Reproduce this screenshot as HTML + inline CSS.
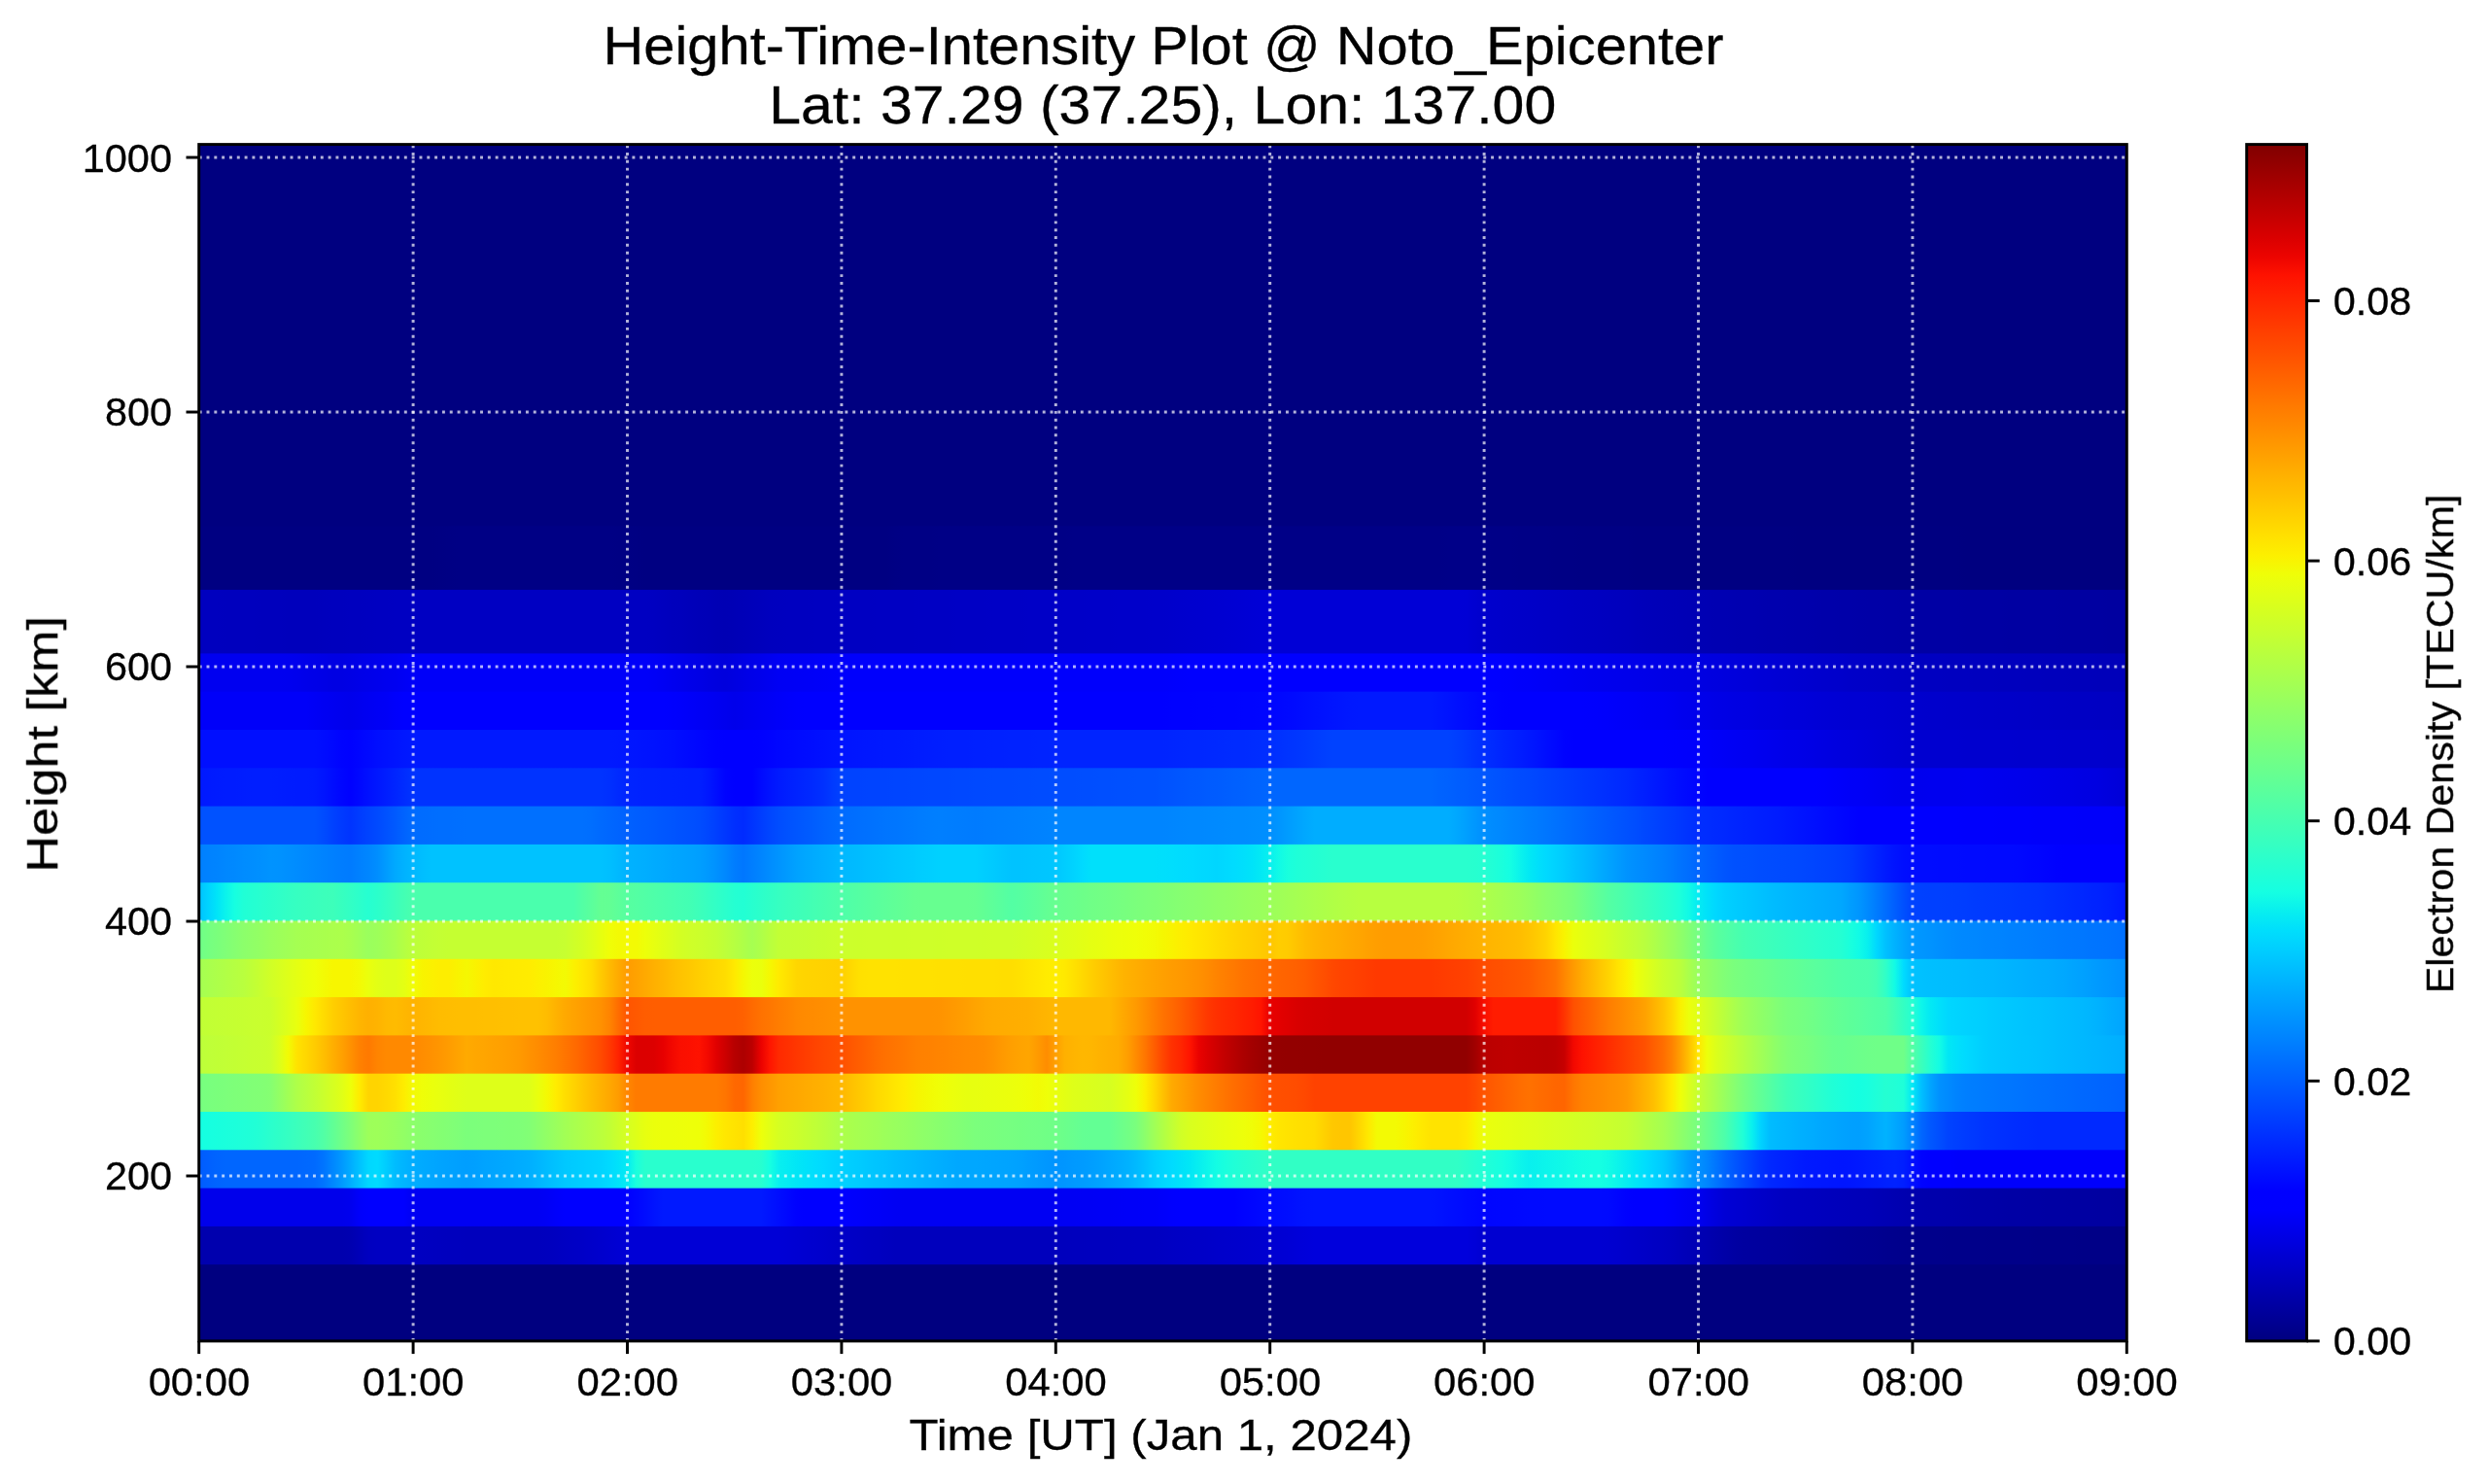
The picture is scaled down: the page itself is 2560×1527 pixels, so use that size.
<!DOCTYPE html><html><head><meta charset="utf-8"><title>HTI</title>
<style>html,body{margin:0;padding:0;background:#fff;overflow:hidden;}svg{display:block;}text{font-family:"Liberation Sans",sans-serif;fill:#000;}</style></head><body>
<svg width="2560" height="1527" viewBox="0 0 2560 1527">
<defs>
<linearGradient id="g130" x1="0" y1="0" x2="1" y2="0"><stop offset="0.00000" stop-color="#0000ae"/><stop offset="0.07407" stop-color="#0000ae"/><stop offset="0.07870" stop-color="#0000b0"/><stop offset="0.08333" stop-color="#0000b8"/><stop offset="0.08796" stop-color="#0000c0"/><stop offset="0.09259" stop-color="#0000c2"/><stop offset="0.11111" stop-color="#0000c2"/><stop offset="0.11574" stop-color="#0000c1"/><stop offset="0.12037" stop-color="#0000c0"/><stop offset="0.12500" stop-color="#0000bf"/><stop offset="0.12963" stop-color="#0000be"/><stop offset="0.13426" stop-color="#0000be"/><stop offset="0.13889" stop-color="#0000bd"/><stop offset="0.17593" stop-color="#0000bd"/><stop offset="0.18056" stop-color="#0000be"/><stop offset="0.18519" stop-color="#0000c0"/><stop offset="0.18981" stop-color="#0000c3"/><stop offset="0.19444" stop-color="#0000c5"/><stop offset="0.19907" stop-color="#0000c7"/><stop offset="0.20370" stop-color="#0000ca"/><stop offset="0.20833" stop-color="#0000cd"/><stop offset="0.21296" stop-color="#0000d0"/><stop offset="0.21759" stop-color="#0000d3"/><stop offset="0.22222" stop-color="#0000d6"/><stop offset="0.30093" stop-color="#0000d6"/><stop offset="0.30556" stop-color="#0000d4"/><stop offset="0.31019" stop-color="#0000d2"/><stop offset="0.31481" stop-color="#0000d0"/><stop offset="0.31944" stop-color="#0000ce"/><stop offset="0.32407" stop-color="#0000cc"/><stop offset="0.32870" stop-color="#0000c9"/><stop offset="0.33333" stop-color="#0000c7"/><stop offset="0.33796" stop-color="#0000c6"/><stop offset="0.34259" stop-color="#0000c4"/><stop offset="0.34722" stop-color="#0000c2"/><stop offset="0.35185" stop-color="#0000c1"/><stop offset="0.35648" stop-color="#0000bf"/><stop offset="0.36111" stop-color="#0000bd"/><stop offset="0.44907" stop-color="#0000bd"/><stop offset="0.45370" stop-color="#0000be"/><stop offset="0.45833" stop-color="#0000be"/><stop offset="0.46296" stop-color="#0000bf"/><stop offset="0.47222" stop-color="#0000bf"/><stop offset="0.47685" stop-color="#0000c0"/><stop offset="0.48148" stop-color="#0000c0"/><stop offset="0.48611" stop-color="#0000c1"/><stop offset="0.49537" stop-color="#0000c1"/><stop offset="0.50000" stop-color="#0000c2"/><stop offset="0.50463" stop-color="#0000c4"/><stop offset="0.50926" stop-color="#0000c5"/><stop offset="0.51389" stop-color="#0000c6"/><stop offset="0.51852" stop-color="#0000c7"/><stop offset="0.52315" stop-color="#0000c8"/><stop offset="0.52778" stop-color="#0000ca"/><stop offset="0.53241" stop-color="#0000cb"/><stop offset="0.53704" stop-color="#0000cc"/><stop offset="0.54167" stop-color="#0000cd"/><stop offset="0.54630" stop-color="#0000ce"/><stop offset="0.55093" stop-color="#0000cf"/><stop offset="0.55556" stop-color="#0000d1"/><stop offset="0.56019" stop-color="#0000d3"/><stop offset="0.56481" stop-color="#0000d5"/><stop offset="0.56944" stop-color="#0000d8"/><stop offset="0.57407" stop-color="#0000da"/><stop offset="0.57870" stop-color="#0000dc"/><stop offset="0.65741" stop-color="#0000dc"/><stop offset="0.66204" stop-color="#0000d8"/><stop offset="0.66667" stop-color="#0000d1"/><stop offset="0.72685" stop-color="#0000d1"/><stop offset="0.73148" stop-color="#0000d0"/><stop offset="0.73611" stop-color="#0000ce"/><stop offset="0.74074" stop-color="#0000cb"/><stop offset="0.74537" stop-color="#0000c9"/><stop offset="0.75000" stop-color="#0000c7"/><stop offset="0.75463" stop-color="#0000c4"/><stop offset="0.75926" stop-color="#0000c2"/><stop offset="0.76389" stop-color="#0000bf"/><stop offset="0.76852" stop-color="#0000bb"/><stop offset="0.77315" stop-color="#0000b7"/><stop offset="0.77778" stop-color="#0000b4"/><stop offset="0.78241" stop-color="#0000b0"/><stop offset="0.78704" stop-color="#0000ab"/><stop offset="0.79167" stop-color="#0000a7"/><stop offset="0.79630" stop-color="#0000a3"/><stop offset="0.80093" stop-color="#0000a0"/><stop offset="0.80556" stop-color="#00009f"/><stop offset="0.81019" stop-color="#00009e"/><stop offset="0.81481" stop-color="#00009d"/><stop offset="0.81944" stop-color="#00009c"/><stop offset="0.82407" stop-color="#00009b"/><stop offset="0.82870" stop-color="#000099"/><stop offset="0.83333" stop-color="#000098"/><stop offset="0.83796" stop-color="#000097"/><stop offset="0.84259" stop-color="#000096"/><stop offset="0.84722" stop-color="#000095"/><stop offset="0.85185" stop-color="#000094"/><stop offset="0.85648" stop-color="#000093"/><stop offset="0.86111" stop-color="#000092"/><stop offset="0.86574" stop-color="#000091"/><stop offset="0.87037" stop-color="#000090"/><stop offset="0.87500" stop-color="#00008e"/><stop offset="0.87963" stop-color="#00008d"/><stop offset="0.88426" stop-color="#00008c"/><stop offset="0.88889" stop-color="#00008b"/><stop offset="0.90278" stop-color="#00008b"/><stop offset="0.90741" stop-color="#00008a"/><stop offset="0.92593" stop-color="#00008a"/><stop offset="0.93056" stop-color="#000089"/><stop offset="0.94907" stop-color="#000089"/><stop offset="0.95370" stop-color="#000088"/><stop offset="0.97222" stop-color="#000088"/><stop offset="0.97685" stop-color="#000087"/><stop offset="0.99537" stop-color="#000087"/><stop offset="1.00000" stop-color="#000086"/></linearGradient>
<linearGradient id="g160" x1="0" y1="0" x2="1" y2="0"><stop offset="0.00000" stop-color="#0000eb"/><stop offset="0.07407" stop-color="#0000eb"/><stop offset="0.07870" stop-color="#0000ee"/><stop offset="0.08333" stop-color="#0000fb"/><stop offset="0.08796" stop-color="#0000ff"/><stop offset="0.10648" stop-color="#0000ff"/><stop offset="0.11111" stop-color="#0000f3"/><stop offset="0.17593" stop-color="#0000f3"/><stop offset="0.18056" stop-color="#0000f6"/><stop offset="0.18519" stop-color="#0000fb"/><stop offset="0.18981" stop-color="#0000ff"/><stop offset="0.22222" stop-color="#0000ff"/><stop offset="0.22685" stop-color="#0006ff"/><stop offset="0.23148" stop-color="#000cff"/><stop offset="0.23611" stop-color="#0013ff"/><stop offset="0.24074" stop-color="#0019ff"/><stop offset="0.29167" stop-color="#0019ff"/><stop offset="0.29630" stop-color="#0013ff"/><stop offset="0.30093" stop-color="#000dff"/><stop offset="0.30556" stop-color="#0007ff"/><stop offset="0.31019" stop-color="#0001ff"/><stop offset="0.31481" stop-color="#0000ff"/><stop offset="0.33333" stop-color="#0000ff"/><stop offset="0.33796" stop-color="#0000fd"/><stop offset="0.34259" stop-color="#0000fb"/><stop offset="0.34722" stop-color="#0000f9"/><stop offset="0.35185" stop-color="#0000f8"/><stop offset="0.35648" stop-color="#0000f6"/><stop offset="0.36111" stop-color="#0000f4"/><stop offset="0.36574" stop-color="#0000f3"/><stop offset="0.44444" stop-color="#0000f3"/><stop offset="0.44907" stop-color="#0000f4"/><stop offset="0.45370" stop-color="#0000f4"/><stop offset="0.45833" stop-color="#0000f5"/><stop offset="0.46296" stop-color="#0000f5"/><stop offset="0.46759" stop-color="#0000f6"/><stop offset="0.47222" stop-color="#0000f6"/><stop offset="0.47685" stop-color="#0000f7"/><stop offset="0.48148" stop-color="#0000f8"/><stop offset="0.48611" stop-color="#0000f8"/><stop offset="0.49074" stop-color="#0000f9"/><stop offset="0.49537" stop-color="#0000f9"/><stop offset="0.50000" stop-color="#0000fb"/><stop offset="0.50463" stop-color="#0000fe"/><stop offset="0.50926" stop-color="#0000ff"/><stop offset="0.53704" stop-color="#0000ff"/><stop offset="0.54167" stop-color="#0003ff"/><stop offset="0.54630" stop-color="#0005ff"/><stop offset="0.55093" stop-color="#0008ff"/><stop offset="0.55556" stop-color="#000aff"/><stop offset="0.56019" stop-color="#000cff"/><stop offset="0.56481" stop-color="#000eff"/><stop offset="0.56944" stop-color="#0011ff"/><stop offset="0.57407" stop-color="#0013ff"/><stop offset="0.57870" stop-color="#0014ff"/><stop offset="0.63889" stop-color="#0014ff"/><stop offset="0.64352" stop-color="#0012ff"/><stop offset="0.64815" stop-color="#000fff"/><stop offset="0.65278" stop-color="#000dff"/><stop offset="0.65741" stop-color="#000aff"/><stop offset="0.66204" stop-color="#0008ff"/><stop offset="0.66667" stop-color="#0005ff"/><stop offset="0.67130" stop-color="#0006ff"/><stop offset="0.67593" stop-color="#0007ff"/><stop offset="0.68056" stop-color="#0007ff"/><stop offset="0.68519" stop-color="#0008ff"/><stop offset="0.68981" stop-color="#0009ff"/><stop offset="0.69444" stop-color="#0009ff"/><stop offset="0.69907" stop-color="#000aff"/><stop offset="0.72685" stop-color="#000aff"/><stop offset="0.73148" stop-color="#0009ff"/><stop offset="0.73611" stop-color="#0005ff"/><stop offset="0.74074" stop-color="#0001ff"/><stop offset="0.74537" stop-color="#0000ff"/><stop offset="0.75926" stop-color="#0000ff"/><stop offset="0.76389" stop-color="#0000fc"/><stop offset="0.76852" stop-color="#0000f8"/><stop offset="0.77315" stop-color="#0000f4"/><stop offset="0.77778" stop-color="#0000f0"/><stop offset="0.78241" stop-color="#0000e6"/><stop offset="0.78704" stop-color="#0000dd"/><stop offset="0.79167" stop-color="#0000d5"/><stop offset="0.79630" stop-color="#0000d2"/><stop offset="0.80093" stop-color="#0000cf"/><stop offset="0.80556" stop-color="#0000cc"/><stop offset="0.81019" stop-color="#0000c9"/><stop offset="0.81481" stop-color="#0000c6"/><stop offset="0.81944" stop-color="#0000c3"/><stop offset="0.82407" stop-color="#0000c1"/><stop offset="0.82870" stop-color="#0000c0"/><stop offset="0.83333" stop-color="#0000bf"/><stop offset="0.83796" stop-color="#0000be"/><stop offset="0.84259" stop-color="#0000bd"/><stop offset="0.84722" stop-color="#0000bc"/><stop offset="0.85185" stop-color="#0000bb"/><stop offset="0.85648" stop-color="#0000ba"/><stop offset="0.86111" stop-color="#0000b9"/><stop offset="0.86574" stop-color="#0000b8"/><stop offset="0.87037" stop-color="#0000b6"/><stop offset="0.87500" stop-color="#0000b4"/><stop offset="0.87963" stop-color="#0000b2"/><stop offset="0.88426" stop-color="#0000b0"/><stop offset="0.88889" stop-color="#0000ae"/><stop offset="0.89352" stop-color="#0000ad"/><stop offset="0.89815" stop-color="#0000ac"/><stop offset="0.90278" stop-color="#0000ac"/><stop offset="0.90741" stop-color="#0000ab"/><stop offset="0.91204" stop-color="#0000aa"/><stop offset="0.91667" stop-color="#0000a9"/><stop offset="0.92130" stop-color="#0000a8"/><stop offset="0.92593" stop-color="#0000a8"/><stop offset="0.93056" stop-color="#0000a7"/><stop offset="0.93519" stop-color="#0000a6"/><stop offset="0.93981" stop-color="#0000a5"/><stop offset="0.94444" stop-color="#0000a5"/><stop offset="0.94907" stop-color="#0000a4"/><stop offset="0.95370" stop-color="#0000a4"/><stop offset="0.95833" stop-color="#0000a3"/><stop offset="0.96759" stop-color="#0000a3"/><stop offset="0.97222" stop-color="#0000a2"/><stop offset="0.98148" stop-color="#0000a2"/><stop offset="0.98611" stop-color="#0000a1"/><stop offset="0.99074" stop-color="#0000a1"/><stop offset="0.99537" stop-color="#0000a0"/><stop offset="1.00000" stop-color="#0000a0"/></linearGradient>
<linearGradient id="g190" x1="0" y1="0" x2="1" y2="0"><stop offset="0.00000" stop-color="#005cff"/><stop offset="0.00463" stop-color="#0060ff"/><stop offset="0.00926" stop-color="#0064ff"/><stop offset="0.01389" stop-color="#0066ff"/><stop offset="0.05093" stop-color="#0066ff"/><stop offset="0.05556" stop-color="#0068ff"/><stop offset="0.06019" stop-color="#006aff"/><stop offset="0.06481" stop-color="#0075ff"/><stop offset="0.06944" stop-color="#0087ff"/><stop offset="0.07407" stop-color="#0098ff"/><stop offset="0.07870" stop-color="#00adff"/><stop offset="0.08333" stop-color="#00c2ff"/><stop offset="0.08796" stop-color="#00d7ff"/><stop offset="0.09259" stop-color="#00dbff"/><stop offset="0.09722" stop-color="#00ccff"/><stop offset="0.10185" stop-color="#00bcff"/><stop offset="0.10648" stop-color="#00b4ff"/><stop offset="0.11111" stop-color="#00adff"/><stop offset="0.11574" stop-color="#00aaff"/><stop offset="0.12037" stop-color="#00a7ff"/><stop offset="0.12500" stop-color="#00a4ff"/><stop offset="0.12963" stop-color="#00a2ff"/><stop offset="0.13426" stop-color="#00a0ff"/><stop offset="0.13889" stop-color="#009eff"/><stop offset="0.14352" stop-color="#00a0ff"/><stop offset="0.14815" stop-color="#00a3ff"/><stop offset="0.15278" stop-color="#00a5ff"/><stop offset="0.15741" stop-color="#00a7ff"/><stop offset="0.16204" stop-color="#00a9ff"/><stop offset="0.16667" stop-color="#00acff"/><stop offset="0.17130" stop-color="#00afff"/><stop offset="0.17593" stop-color="#00b5ff"/><stop offset="0.18056" stop-color="#00bcff"/><stop offset="0.18519" stop-color="#00c2ff"/><stop offset="0.18981" stop-color="#00c8ff"/><stop offset="0.19444" stop-color="#00cbff"/><stop offset="0.19907" stop-color="#00ceff"/><stop offset="0.20370" stop-color="#00d1ff"/><stop offset="0.20833" stop-color="#00d4ff"/><stop offset="0.21296" stop-color="#00daff"/><stop offset="0.21759" stop-color="#00e2fa"/><stop offset="0.22222" stop-color="#04ebf3"/><stop offset="0.22685" stop-color="#1affdd"/><stop offset="0.23148" stop-color="#29ffce"/><stop offset="0.28704" stop-color="#29ffce"/><stop offset="0.29167" stop-color="#27ffd0"/><stop offset="0.29630" stop-color="#16ffe1"/><stop offset="0.30093" stop-color="#08efef"/><stop offset="0.30556" stop-color="#04ebf3"/><stop offset="0.31019" stop-color="#01e6f6"/><stop offset="0.31481" stop-color="#00e2fa"/><stop offset="0.31944" stop-color="#00defd"/><stop offset="0.32407" stop-color="#00daff"/><stop offset="0.32870" stop-color="#00d5ff"/><stop offset="0.33333" stop-color="#00d1ff"/><stop offset="0.33796" stop-color="#00ceff"/><stop offset="0.34259" stop-color="#00cbff"/><stop offset="0.34722" stop-color="#00c7ff"/><stop offset="0.35185" stop-color="#00c4ff"/><stop offset="0.35648" stop-color="#00c1ff"/><stop offset="0.36111" stop-color="#00bdff"/><stop offset="0.36574" stop-color="#00baff"/><stop offset="0.37037" stop-color="#00b7ff"/><stop offset="0.37500" stop-color="#00b4ff"/><stop offset="0.37963" stop-color="#00b1ff"/><stop offset="0.38426" stop-color="#00aeff"/><stop offset="0.38889" stop-color="#00abff"/><stop offset="0.39352" stop-color="#00a8ff"/><stop offset="0.39815" stop-color="#00a7ff"/><stop offset="0.40278" stop-color="#00a7ff"/><stop offset="0.40741" stop-color="#00a6ff"/><stop offset="0.41204" stop-color="#00a5ff"/><stop offset="0.41667" stop-color="#00a4ff"/><stop offset="0.42130" stop-color="#00a3ff"/><stop offset="0.42593" stop-color="#00a1ff"/><stop offset="0.43056" stop-color="#009dff"/><stop offset="0.43519" stop-color="#009aff"/><stop offset="0.43981" stop-color="#0097ff"/><stop offset="0.44444" stop-color="#0094ff"/><stop offset="0.44907" stop-color="#0096ff"/><stop offset="0.45370" stop-color="#0099ff"/><stop offset="0.45833" stop-color="#009bff"/><stop offset="0.46296" stop-color="#009eff"/><stop offset="0.46759" stop-color="#00a2ff"/><stop offset="0.47222" stop-color="#00a7ff"/><stop offset="0.47685" stop-color="#00acff"/><stop offset="0.48148" stop-color="#00b1ff"/><stop offset="0.48611" stop-color="#00b9ff"/><stop offset="0.49074" stop-color="#00c3ff"/><stop offset="0.49537" stop-color="#00ceff"/><stop offset="0.50000" stop-color="#00d5ff"/><stop offset="0.50463" stop-color="#00dbff"/><stop offset="0.50926" stop-color="#00e1fa"/><stop offset="0.51389" stop-color="#01e7f6"/><stop offset="0.51852" stop-color="#07eef0"/><stop offset="0.52315" stop-color="#0df6ea"/><stop offset="0.52778" stop-color="#13fde4"/><stop offset="0.53241" stop-color="#1affdd"/><stop offset="0.53704" stop-color="#20ffd7"/><stop offset="0.54167" stop-color="#25ffd2"/><stop offset="0.54630" stop-color="#29ffce"/><stop offset="0.55093" stop-color="#2dffca"/><stop offset="0.55556" stop-color="#31ffc5"/><stop offset="0.64815" stop-color="#31ffc5"/><stop offset="0.65278" stop-color="#31ffc6"/><stop offset="0.65741" stop-color="#2bffcb"/><stop offset="0.66204" stop-color="#26ffd1"/><stop offset="0.66667" stop-color="#21ffd6"/><stop offset="0.67130" stop-color="#1cffdb"/><stop offset="0.67593" stop-color="#17ffe0"/><stop offset="0.68056" stop-color="#12fce5"/><stop offset="0.68519" stop-color="#0df5ea"/><stop offset="0.68981" stop-color="#09f0ee"/><stop offset="0.69444" stop-color="#0af2ec"/><stop offset="0.69907" stop-color="#0cf5eb"/><stop offset="0.70370" stop-color="#0ef7e9"/><stop offset="0.70833" stop-color="#10f9e7"/><stop offset="0.71296" stop-color="#12fce5"/><stop offset="0.71759" stop-color="#14fee3"/><stop offset="0.72222" stop-color="#15ffe2"/><stop offset="0.72685" stop-color="#15ffe2"/><stop offset="0.73148" stop-color="#11fbe5"/><stop offset="0.73611" stop-color="#0cf4eb"/><stop offset="0.74074" stop-color="#06edf1"/><stop offset="0.74537" stop-color="#00e6f7"/><stop offset="0.75000" stop-color="#00defd"/><stop offset="0.75463" stop-color="#00d4ff"/><stop offset="0.75926" stop-color="#00cbff"/><stop offset="0.76389" stop-color="#00bdff"/><stop offset="0.76852" stop-color="#00acff"/><stop offset="0.77315" stop-color="#009cff"/><stop offset="0.77778" stop-color="#0091ff"/><stop offset="0.78241" stop-color="#0085ff"/><stop offset="0.78704" stop-color="#0075ff"/><stop offset="0.79167" stop-color="#0065ff"/><stop offset="0.79630" stop-color="#0057ff"/><stop offset="0.80093" stop-color="#004aff"/><stop offset="0.80556" stop-color="#003eff"/><stop offset="0.81019" stop-color="#0031ff"/><stop offset="0.81481" stop-color="#0028ff"/><stop offset="0.81944" stop-color="#0024ff"/><stop offset="0.82407" stop-color="#0021ff"/><stop offset="0.82870" stop-color="#001dff"/><stop offset="0.83333" stop-color="#0019ff"/><stop offset="0.83796" stop-color="#0018ff"/><stop offset="0.84259" stop-color="#0017ff"/><stop offset="0.84722" stop-color="#0016ff"/><stop offset="0.85185" stop-color="#0015ff"/><stop offset="0.85648" stop-color="#0016ff"/><stop offset="0.86111" stop-color="#0018ff"/><stop offset="0.86574" stop-color="#001bff"/><stop offset="0.87037" stop-color="#001dff"/><stop offset="0.87500" stop-color="#0020ff"/><stop offset="0.87963" stop-color="#0022ff"/><stop offset="0.88426" stop-color="#001eff"/><stop offset="0.88889" stop-color="#0010ff"/><stop offset="0.89352" stop-color="#0003ff"/><stop offset="0.89815" stop-color="#0000ff"/><stop offset="0.90741" stop-color="#0000ff"/><stop offset="0.91204" stop-color="#0000fc"/><stop offset="1.00000" stop-color="#0000fc"/></linearGradient>
<linearGradient id="g220" x1="0" y1="0" x2="1" y2="0"><stop offset="0.00000" stop-color="#15ffe2"/><stop offset="0.00463" stop-color="#16ffe0"/><stop offset="0.00926" stop-color="#18ffde"/><stop offset="0.01389" stop-color="#1affdc"/><stop offset="0.01852" stop-color="#1cffdb"/><stop offset="0.02315" stop-color="#1effd9"/><stop offset="0.02778" stop-color="#20ffd7"/><stop offset="0.03241" stop-color="#24ffd3"/><stop offset="0.03704" stop-color="#2affcd"/><stop offset="0.04167" stop-color="#2fffc7"/><stop offset="0.04630" stop-color="#35ffc2"/><stop offset="0.05093" stop-color="#3bffbc"/><stop offset="0.05556" stop-color="#41ffb6"/><stop offset="0.06019" stop-color="#47ffaf"/><stop offset="0.06481" stop-color="#52ffa5"/><stop offset="0.06944" stop-color="#60ff96"/><stop offset="0.07407" stop-color="#6fff88"/><stop offset="0.07870" stop-color="#7eff79"/><stop offset="0.08333" stop-color="#8eff69"/><stop offset="0.08796" stop-color="#9dff5a"/><stop offset="0.09259" stop-color="#9eff59"/><stop offset="0.09722" stop-color="#9bff5c"/><stop offset="0.10185" stop-color="#97ff60"/><stop offset="0.10648" stop-color="#92ff65"/><stop offset="0.11111" stop-color="#8cff6b"/><stop offset="0.11574" stop-color="#89ff6d"/><stop offset="0.12037" stop-color="#87ff70"/><stop offset="0.12500" stop-color="#84ff72"/><stop offset="0.12963" stop-color="#82ff75"/><stop offset="0.13426" stop-color="#7fff78"/><stop offset="0.13889" stop-color="#7bff7b"/><stop offset="0.14352" stop-color="#7cff7b"/><stop offset="0.14815" stop-color="#7dff7a"/><stop offset="0.15278" stop-color="#7dff7a"/><stop offset="0.15741" stop-color="#7eff79"/><stop offset="0.16204" stop-color="#7eff78"/><stop offset="0.16667" stop-color="#7fff78"/><stop offset="0.17130" stop-color="#82ff75"/><stop offset="0.17593" stop-color="#8aff6d"/><stop offset="0.18056" stop-color="#92ff65"/><stop offset="0.18519" stop-color="#9aff5d"/><stop offset="0.18981" stop-color="#a2ff55"/><stop offset="0.19444" stop-color="#a8ff4f"/><stop offset="0.19907" stop-color="#aeff49"/><stop offset="0.20370" stop-color="#b4ff43"/><stop offset="0.20833" stop-color="#baff3d"/><stop offset="0.21296" stop-color="#c1ff35"/><stop offset="0.21759" stop-color="#ccff2b"/><stop offset="0.22222" stop-color="#d6ff21"/><stop offset="0.22685" stop-color="#deff18"/><stop offset="0.23148" stop-color="#e7ff10"/><stop offset="0.23611" stop-color="#ebff0c"/><stop offset="0.24074" stop-color="#ecff0b"/><stop offset="0.24537" stop-color="#ecff0b"/><stop offset="0.25000" stop-color="#edff0a"/><stop offset="0.25463" stop-color="#eeff09"/><stop offset="0.25926" stop-color="#eeff08"/><stop offset="0.26389" stop-color="#f4f903"/><stop offset="0.26852" stop-color="#fcef00"/><stop offset="0.27315" stop-color="#ffe700"/><stop offset="0.27778" stop-color="#ffe300"/><stop offset="0.28241" stop-color="#ffdf00"/><stop offset="0.28704" stop-color="#feee00"/><stop offset="0.29167" stop-color="#edff0a"/><stop offset="0.29630" stop-color="#e0ff17"/><stop offset="0.30093" stop-color="#d5ff22"/><stop offset="0.30556" stop-color="#d0ff27"/><stop offset="0.31019" stop-color="#cbff2c"/><stop offset="0.31481" stop-color="#c5ff31"/><stop offset="0.31944" stop-color="#c0ff36"/><stop offset="0.32407" stop-color="#baff3c"/><stop offset="0.32870" stop-color="#b4ff43"/><stop offset="0.33333" stop-color="#adff4a"/><stop offset="0.33796" stop-color="#a9ff4d"/><stop offset="0.34259" stop-color="#a6ff51"/><stop offset="0.34722" stop-color="#a3ff54"/><stop offset="0.35185" stop-color="#a0ff57"/><stop offset="0.35648" stop-color="#9cff5b"/><stop offset="0.36111" stop-color="#99ff5e"/><stop offset="0.36574" stop-color="#96ff61"/><stop offset="0.37037" stop-color="#92ff64"/><stop offset="0.37500" stop-color="#8fff68"/><stop offset="0.37963" stop-color="#8cff6b"/><stop offset="0.38426" stop-color="#88ff6e"/><stop offset="0.38889" stop-color="#85ff72"/><stop offset="0.39352" stop-color="#82ff75"/><stop offset="0.39815" stop-color="#7eff78"/><stop offset="0.40278" stop-color="#7bff7c"/><stop offset="0.40741" stop-color="#7aff7d"/><stop offset="0.41204" stop-color="#79ff7e"/><stop offset="0.41667" stop-color="#77ff80"/><stop offset="0.42130" stop-color="#76ff81"/><stop offset="0.42593" stop-color="#74ff82"/><stop offset="0.43056" stop-color="#73ff84"/><stop offset="0.43519" stop-color="#72ff85"/><stop offset="0.43981" stop-color="#70ff86"/><stop offset="0.44444" stop-color="#6fff88"/><stop offset="0.44907" stop-color="#6bff8b"/><stop offset="0.45370" stop-color="#68ff8f"/><stop offset="0.45833" stop-color="#64ff93"/><stop offset="0.46296" stop-color="#63ff94"/><stop offset="0.47222" stop-color="#63ff94"/><stop offset="0.47685" stop-color="#6aff8d"/><stop offset="0.48148" stop-color="#71ff86"/><stop offset="0.48611" stop-color="#7aff7d"/><stop offset="0.49074" stop-color="#8cff6b"/><stop offset="0.49537" stop-color="#9fff58"/><stop offset="0.50000" stop-color="#b0ff46"/><stop offset="0.50463" stop-color="#c0ff37"/><stop offset="0.50926" stop-color="#d0ff27"/><stop offset="0.51389" stop-color="#d8ff1f"/><stop offset="0.51852" stop-color="#dcff1b"/><stop offset="0.52315" stop-color="#e0ff17"/><stop offset="0.52778" stop-color="#e4ff13"/><stop offset="0.53241" stop-color="#e7ff10"/><stop offset="0.53704" stop-color="#eaff0d"/><stop offset="0.54167" stop-color="#edff0a"/><stop offset="0.54630" stop-color="#f0fd07"/><stop offset="0.55093" stop-color="#f5f802"/><stop offset="0.55556" stop-color="#feed00"/><stop offset="0.56019" stop-color="#ffe600"/><stop offset="0.56481" stop-color="#ffe300"/><stop offset="0.56944" stop-color="#ffe000"/><stop offset="0.57407" stop-color="#ffde00"/><stop offset="0.57870" stop-color="#ffdc00"/><stop offset="0.58333" stop-color="#ffd200"/><stop offset="0.58796" stop-color="#ffc800"/><stop offset="0.59259" stop-color="#ffc600"/><stop offset="0.59722" stop-color="#ffc600"/><stop offset="0.60185" stop-color="#ffd600"/><stop offset="0.60648" stop-color="#ffe800"/><stop offset="0.61111" stop-color="#f3fa04"/><stop offset="0.62037" stop-color="#f3fa04"/><stop offset="0.62500" stop-color="#f6f601"/><stop offset="0.62963" stop-color="#fcf000"/><stop offset="0.63426" stop-color="#ffe900"/><stop offset="0.63889" stop-color="#ffe300"/><stop offset="0.65278" stop-color="#ffe300"/><stop offset="0.65741" stop-color="#ffe800"/><stop offset="0.66204" stop-color="#f6f600"/><stop offset="0.66667" stop-color="#eaff0c"/><stop offset="0.67130" stop-color="#e8ff0f"/><stop offset="0.67593" stop-color="#e6ff11"/><stop offset="0.68056" stop-color="#e4ff13"/><stop offset="0.68519" stop-color="#e1ff15"/><stop offset="0.68981" stop-color="#dfff18"/><stop offset="0.69444" stop-color="#ddff1a"/><stop offset="0.69907" stop-color="#daff1c"/><stop offset="0.70370" stop-color="#d8ff1f"/><stop offset="0.70833" stop-color="#d6ff21"/><stop offset="0.71296" stop-color="#d3ff23"/><stop offset="0.71759" stop-color="#d1ff26"/><stop offset="0.72222" stop-color="#cfff28"/><stop offset="0.72685" stop-color="#ccff2b"/><stop offset="0.73148" stop-color="#caff2d"/><stop offset="0.73611" stop-color="#c7ff2f"/><stop offset="0.74074" stop-color="#c4ff33"/><stop offset="0.74537" stop-color="#bdff3a"/><stop offset="0.75000" stop-color="#b5ff42"/><stop offset="0.75463" stop-color="#adff49"/><stop offset="0.75926" stop-color="#a6ff51"/><stop offset="0.76389" stop-color="#9bff5c"/><stop offset="0.76852" stop-color="#8fff68"/><stop offset="0.77315" stop-color="#83ff74"/><stop offset="0.77778" stop-color="#77ff80"/><stop offset="0.78241" stop-color="#69ff8e"/><stop offset="0.78704" stop-color="#5bff9c"/><stop offset="0.79167" stop-color="#4cffab"/><stop offset="0.79630" stop-color="#36ffc1"/><stop offset="0.80093" stop-color="#20ffd7"/><stop offset="0.80556" stop-color="#09f0ee"/><stop offset="0.81019" stop-color="#00d2ff"/><stop offset="0.81481" stop-color="#00bcff"/><stop offset="0.81944" stop-color="#00b8ff"/><stop offset="0.82407" stop-color="#00b5ff"/><stop offset="0.82870" stop-color="#00b1ff"/><stop offset="0.83333" stop-color="#00aeff"/><stop offset="0.83796" stop-color="#00abff"/><stop offset="0.84259" stop-color="#00a7ff"/><stop offset="0.84722" stop-color="#00a5ff"/><stop offset="0.85185" stop-color="#00a2ff"/><stop offset="0.85648" stop-color="#00a0ff"/><stop offset="0.86111" stop-color="#009fff"/><stop offset="0.86574" stop-color="#00a3ff"/><stop offset="0.87037" stop-color="#00abff"/><stop offset="0.87500" stop-color="#00b2ff"/><stop offset="0.87963" stop-color="#00a8ff"/><stop offset="0.88426" stop-color="#009cff"/><stop offset="0.88889" stop-color="#0084ff"/><stop offset="0.89352" stop-color="#0067ff"/><stop offset="0.89815" stop-color="#0058ff"/><stop offset="0.90278" stop-color="#004eff"/><stop offset="0.90741" stop-color="#0043ff"/><stop offset="0.91204" stop-color="#003fff"/><stop offset="0.91667" stop-color="#003bff"/><stop offset="0.92130" stop-color="#0038ff"/><stop offset="0.92593" stop-color="#0034ff"/><stop offset="0.93056" stop-color="#0032ff"/><stop offset="0.93519" stop-color="#0030ff"/><stop offset="0.93981" stop-color="#002eff"/><stop offset="0.94444" stop-color="#002cff"/><stop offset="0.94907" stop-color="#002bff"/><stop offset="0.95370" stop-color="#0029ff"/><stop offset="1.00000" stop-color="#0029ff"/></linearGradient>
<linearGradient id="g250" x1="0" y1="0" x2="1" y2="0"><stop offset="0.00000" stop-color="#77ff80"/><stop offset="0.00463" stop-color="#79ff7e"/><stop offset="0.00926" stop-color="#7aff7c"/><stop offset="0.01389" stop-color="#7cff7b"/><stop offset="0.01852" stop-color="#7eff79"/><stop offset="0.02315" stop-color="#7fff78"/><stop offset="0.02778" stop-color="#81ff76"/><stop offset="0.03241" stop-color="#82ff75"/><stop offset="0.03704" stop-color="#85ff72"/><stop offset="0.04167" stop-color="#93ff64"/><stop offset="0.04630" stop-color="#a1ff55"/><stop offset="0.05093" stop-color="#afff48"/><stop offset="0.05556" stop-color="#b8ff3f"/><stop offset="0.06019" stop-color="#c1ff35"/><stop offset="0.06481" stop-color="#cbff2c"/><stop offset="0.06944" stop-color="#d5ff22"/><stop offset="0.07407" stop-color="#dfff18"/><stop offset="0.07870" stop-color="#eeff09"/><stop offset="0.08333" stop-color="#ffeb00"/><stop offset="0.08796" stop-color="#ffd400"/><stop offset="0.09259" stop-color="#ffd400"/><stop offset="0.09722" stop-color="#ffd900"/><stop offset="0.10185" stop-color="#ffe000"/><stop offset="0.10648" stop-color="#feed00"/><stop offset="0.11111" stop-color="#f3fa04"/><stop offset="0.11574" stop-color="#effe08"/><stop offset="0.12037" stop-color="#ebff0b"/><stop offset="0.12500" stop-color="#e8ff0f"/><stop offset="0.12963" stop-color="#e4ff12"/><stop offset="0.13426" stop-color="#e1ff16"/><stop offset="0.13889" stop-color="#deff19"/><stop offset="0.16667" stop-color="#deff19"/><stop offset="0.17130" stop-color="#dfff18"/><stop offset="0.17593" stop-color="#e9ff0e"/><stop offset="0.18056" stop-color="#f4f903"/><stop offset="0.18519" stop-color="#ffec00"/><stop offset="0.18981" stop-color="#ffde00"/><stop offset="0.19444" stop-color="#ffd300"/><stop offset="0.19907" stop-color="#ffc700"/><stop offset="0.20370" stop-color="#ffbc00"/><stop offset="0.20833" stop-color="#ffb200"/><stop offset="0.21296" stop-color="#ffa800"/><stop offset="0.21759" stop-color="#ff9c00"/><stop offset="0.22222" stop-color="#ff8600"/><stop offset="0.22685" stop-color="#ff7b00"/><stop offset="0.26852" stop-color="#ff7b00"/><stop offset="0.27315" stop-color="#ff7500"/><stop offset="0.27778" stop-color="#ff6800"/><stop offset="0.28241" stop-color="#ff6600"/><stop offset="0.28704" stop-color="#ff7f00"/><stop offset="0.29167" stop-color="#ff8e00"/><stop offset="0.29630" stop-color="#ff9700"/><stop offset="0.30093" stop-color="#ffa000"/><stop offset="0.30556" stop-color="#ffa400"/><stop offset="0.31019" stop-color="#ffa700"/><stop offset="0.31481" stop-color="#ffab00"/><stop offset="0.31944" stop-color="#ffae00"/><stop offset="0.32407" stop-color="#ffb100"/><stop offset="0.32870" stop-color="#ffb500"/><stop offset="0.33333" stop-color="#ffb800"/><stop offset="0.33796" stop-color="#ffc000"/><stop offset="0.34259" stop-color="#ffc800"/><stop offset="0.34722" stop-color="#ffd000"/><stop offset="0.35185" stop-color="#ffd900"/><stop offset="0.35648" stop-color="#ffdf00"/><stop offset="0.36111" stop-color="#ffe600"/><stop offset="0.36574" stop-color="#ffec00"/><stop offset="0.37037" stop-color="#f9f300"/><stop offset="0.37500" stop-color="#f5f702"/><stop offset="0.37963" stop-color="#f2fb04"/><stop offset="0.38426" stop-color="#f0fe07"/><stop offset="0.38889" stop-color="#edff0a"/><stop offset="0.39352" stop-color="#eaff0d"/><stop offset="0.39815" stop-color="#e7ff0f"/><stop offset="0.40278" stop-color="#e7ff10"/><stop offset="0.40741" stop-color="#e8ff0f"/><stop offset="0.41204" stop-color="#e9ff0e"/><stop offset="0.41667" stop-color="#eaff0d"/><stop offset="0.42130" stop-color="#ebff0c"/><stop offset="0.42593" stop-color="#edff0a"/><stop offset="0.43056" stop-color="#effe07"/><stop offset="0.43519" stop-color="#f2fb05"/><stop offset="0.43981" stop-color="#efff08"/><stop offset="0.44444" stop-color="#e9ff0e"/><stop offset="0.44907" stop-color="#e3ff13"/><stop offset="0.45370" stop-color="#deff19"/><stop offset="0.45833" stop-color="#dcff1b"/><stop offset="0.46296" stop-color="#daff1d"/><stop offset="0.46759" stop-color="#d8ff1f"/><stop offset="0.47222" stop-color="#d6ff21"/><stop offset="0.47685" stop-color="#ddff1a"/><stop offset="0.48148" stop-color="#e4ff13"/><stop offset="0.48611" stop-color="#eeff09"/><stop offset="0.49074" stop-color="#fbf100"/><stop offset="0.49537" stop-color="#ffda00"/><stop offset="0.50000" stop-color="#ffc100"/><stop offset="0.50463" stop-color="#ffaa00"/><stop offset="0.50926" stop-color="#ffa000"/><stop offset="0.51389" stop-color="#ff9600"/><stop offset="0.51852" stop-color="#ff8c00"/><stop offset="0.52315" stop-color="#ff8400"/><stop offset="0.52778" stop-color="#ff7c00"/><stop offset="0.53241" stop-color="#ff7400"/><stop offset="0.53704" stop-color="#ff6d00"/><stop offset="0.54167" stop-color="#ff6600"/><stop offset="0.54630" stop-color="#ff5f00"/><stop offset="0.55093" stop-color="#ff5700"/><stop offset="0.55556" stop-color="#ff5000"/><stop offset="0.56019" stop-color="#ff4f00"/><stop offset="0.56481" stop-color="#ff4e00"/><stop offset="0.56944" stop-color="#ff4c00"/><stop offset="0.57407" stop-color="#ff4800"/><stop offset="0.57870" stop-color="#ff4200"/><stop offset="0.65741" stop-color="#ff4200"/><stop offset="0.66204" stop-color="#ff4a00"/><stop offset="0.66667" stop-color="#ff5500"/><stop offset="0.67130" stop-color="#ff5b00"/><stop offset="0.67593" stop-color="#ff6100"/><stop offset="0.68056" stop-color="#ff6700"/><stop offset="0.68519" stop-color="#ff6d00"/><stop offset="0.68981" stop-color="#ff7100"/><stop offset="0.69444" stop-color="#ff6d00"/><stop offset="0.69907" stop-color="#ff6a00"/><stop offset="0.70370" stop-color="#ff6600"/><stop offset="0.70833" stop-color="#ff6500"/><stop offset="0.71296" stop-color="#ff7600"/><stop offset="0.71759" stop-color="#ff8100"/><stop offset="0.72222" stop-color="#ff8600"/><stop offset="0.72685" stop-color="#ff8a00"/><stop offset="0.73148" stop-color="#ff8f00"/><stop offset="0.73611" stop-color="#ff9300"/><stop offset="0.74074" stop-color="#ff9900"/><stop offset="0.74537" stop-color="#ffa600"/><stop offset="0.75000" stop-color="#ffb200"/><stop offset="0.75463" stop-color="#ffbf00"/><stop offset="0.75926" stop-color="#ffd300"/><stop offset="0.76389" stop-color="#ffe900"/><stop offset="0.76852" stop-color="#efff08"/><stop offset="0.77315" stop-color="#daff1d"/><stop offset="0.77778" stop-color="#c5ff31"/><stop offset="0.78241" stop-color="#b6ff41"/><stop offset="0.78704" stop-color="#a7ff50"/><stop offset="0.79167" stop-color="#97ff60"/><stop offset="0.79630" stop-color="#88ff6f"/><stop offset="0.80093" stop-color="#79ff7e"/><stop offset="0.80556" stop-color="#6dff8a"/><stop offset="0.81019" stop-color="#61ff96"/><stop offset="0.81481" stop-color="#55ffa2"/><stop offset="0.81944" stop-color="#49ffae"/><stop offset="0.82407" stop-color="#3fffb7"/><stop offset="0.82870" stop-color="#39ffbe"/><stop offset="0.83333" stop-color="#33ffc4"/><stop offset="0.83796" stop-color="#2dffca"/><stop offset="0.84259" stop-color="#27ffd0"/><stop offset="0.84722" stop-color="#20ffd6"/><stop offset="0.85185" stop-color="#1cffdb"/><stop offset="0.85648" stop-color="#18ffde"/><stop offset="0.86111" stop-color="#15ffe1"/><stop offset="0.86574" stop-color="#19ffde"/><stop offset="0.87037" stop-color="#1fffd8"/><stop offset="0.87500" stop-color="#24ffd2"/><stop offset="0.87963" stop-color="#22ffd5"/><stop offset="0.88426" stop-color="#1effd9"/><stop offset="0.88889" stop-color="#02e8f5"/><stop offset="0.89352" stop-color="#00bfff"/><stop offset="0.89815" stop-color="#00a5ff"/><stop offset="0.90278" stop-color="#0091ff"/><stop offset="0.90741" stop-color="#008aff"/><stop offset="0.91204" stop-color="#0083ff"/><stop offset="0.91667" stop-color="#007fff"/><stop offset="0.92130" stop-color="#007dff"/><stop offset="0.92593" stop-color="#007bff"/><stop offset="0.93056" stop-color="#0079ff"/><stop offset="0.93519" stop-color="#0077ff"/><stop offset="0.93981" stop-color="#0076ff"/><stop offset="0.94444" stop-color="#0074ff"/><stop offset="0.94907" stop-color="#0072ff"/><stop offset="0.95370" stop-color="#0070ff"/><stop offset="0.95833" stop-color="#006fff"/><stop offset="0.96296" stop-color="#006dff"/><stop offset="0.96759" stop-color="#006cff"/><stop offset="0.97222" stop-color="#006aff"/><stop offset="0.97685" stop-color="#0068ff"/><stop offset="0.98148" stop-color="#0067ff"/><stop offset="0.98611" stop-color="#0065ff"/><stop offset="0.99074" stop-color="#0064ff"/><stop offset="0.99537" stop-color="#0062ff"/><stop offset="1.00000" stop-color="#0061ff"/></linearGradient>
<linearGradient id="g280" x1="0" y1="0" x2="1" y2="0"><stop offset="0.00000" stop-color="#bdff3a"/><stop offset="0.00463" stop-color="#bfff38"/><stop offset="0.00926" stop-color="#c0ff36"/><stop offset="0.01389" stop-color="#c2ff35"/><stop offset="0.01852" stop-color="#c3ff33"/><stop offset="0.02315" stop-color="#c5ff32"/><stop offset="0.02778" stop-color="#c7ff30"/><stop offset="0.03241" stop-color="#c8ff2f"/><stop offset="0.03704" stop-color="#cbff2c"/><stop offset="0.04167" stop-color="#dcff1b"/><stop offset="0.04630" stop-color="#f2fb04"/><stop offset="0.05093" stop-color="#ffe200"/><stop offset="0.05556" stop-color="#ffd700"/><stop offset="0.06019" stop-color="#ffcb00"/><stop offset="0.06481" stop-color="#ffbe00"/><stop offset="0.06944" stop-color="#ffaf00"/><stop offset="0.07407" stop-color="#ffa100"/><stop offset="0.07870" stop-color="#ff9100"/><stop offset="0.08333" stop-color="#ff8100"/><stop offset="0.08796" stop-color="#ff7900"/><stop offset="0.09259" stop-color="#ff8400"/><stop offset="0.09722" stop-color="#ff8900"/><stop offset="0.11111" stop-color="#ff8900"/><stop offset="0.11574" stop-color="#ff8d00"/><stop offset="0.12037" stop-color="#ff9100"/><stop offset="0.12500" stop-color="#ff9600"/><stop offset="0.12963" stop-color="#ff9c00"/><stop offset="0.13426" stop-color="#ffa300"/><stop offset="0.13889" stop-color="#ffaa00"/><stop offset="0.14352" stop-color="#ffa700"/><stop offset="0.14815" stop-color="#ffa500"/><stop offset="0.15278" stop-color="#ffa200"/><stop offset="0.15741" stop-color="#ffa000"/><stop offset="0.16204" stop-color="#ff9d00"/><stop offset="0.16667" stop-color="#ff9900"/><stop offset="0.17130" stop-color="#ff9200"/><stop offset="0.17593" stop-color="#ff8c00"/><stop offset="0.18056" stop-color="#ff8500"/><stop offset="0.18519" stop-color="#ff7e00"/><stop offset="0.18981" stop-color="#ff7500"/><stop offset="0.19444" stop-color="#ff6c00"/><stop offset="0.19907" stop-color="#ff6200"/><stop offset="0.20370" stop-color="#ff5600"/><stop offset="0.20833" stop-color="#ff4b00"/><stop offset="0.21296" stop-color="#ff3900"/><stop offset="0.21759" stop-color="#ff2300"/><stop offset="0.22222" stop-color="#ef0600"/><stop offset="0.22685" stop-color="#dc0000"/><stop offset="0.23148" stop-color="#dc0000"/><stop offset="0.23611" stop-color="#dd0000"/><stop offset="0.24074" stop-color="#e70000"/><stop offset="0.24537" stop-color="#f20800"/><stop offset="0.25000" stop-color="#fa0f00"/><stop offset="0.25463" stop-color="#fc1000"/><stop offset="0.25926" stop-color="#fe1200"/><stop offset="0.26389" stop-color="#f30900"/><stop offset="0.26852" stop-color="#e00000"/><stop offset="0.27315" stop-color="#cc0000"/><stop offset="0.27778" stop-color="#b70000"/><stop offset="0.28241" stop-color="#ad0000"/><stop offset="0.28704" stop-color="#bd0000"/><stop offset="0.29167" stop-color="#eb0200"/><stop offset="0.29630" stop-color="#ff1600"/><stop offset="0.30093" stop-color="#ff2a00"/><stop offset="0.30556" stop-color="#ff3000"/><stop offset="0.31019" stop-color="#ff3700"/><stop offset="0.31481" stop-color="#ff3d00"/><stop offset="0.31944" stop-color="#ff4300"/><stop offset="0.32407" stop-color="#ff4800"/><stop offset="0.32870" stop-color="#ff4c00"/><stop offset="0.33333" stop-color="#ff5000"/><stop offset="0.33796" stop-color="#ff5700"/><stop offset="0.34259" stop-color="#ff5e00"/><stop offset="0.34722" stop-color="#ff6500"/><stop offset="0.35185" stop-color="#ff6c00"/><stop offset="0.35648" stop-color="#ff7100"/><stop offset="0.36111" stop-color="#ff7500"/><stop offset="0.36574" stop-color="#ff7900"/><stop offset="0.37037" stop-color="#ff7e00"/><stop offset="0.37500" stop-color="#ff8100"/><stop offset="0.37963" stop-color="#ff8200"/><stop offset="0.38426" stop-color="#ff8400"/><stop offset="0.38889" stop-color="#ff8600"/><stop offset="0.39352" stop-color="#ff8800"/><stop offset="0.39815" stop-color="#ff8a00"/><stop offset="0.40278" stop-color="#ff8b00"/><stop offset="0.40741" stop-color="#ff8d00"/><stop offset="0.41204" stop-color="#ff9200"/><stop offset="0.41667" stop-color="#ff9900"/><stop offset="0.42130" stop-color="#ff9f00"/><stop offset="0.42593" stop-color="#ffa300"/><stop offset="0.43056" stop-color="#ffa500"/><stop offset="0.43519" stop-color="#ff9a00"/><stop offset="0.43981" stop-color="#ff8d00"/><stop offset="0.44444" stop-color="#ffa000"/><stop offset="0.44907" stop-color="#ffb000"/><stop offset="0.45370" stop-color="#ffb400"/><stop offset="0.45833" stop-color="#ffb700"/><stop offset="0.46296" stop-color="#ffb600"/><stop offset="0.46759" stop-color="#ffb200"/><stop offset="0.47222" stop-color="#ffaf00"/><stop offset="0.47685" stop-color="#ffac00"/><stop offset="0.48148" stop-color="#ff9f00"/><stop offset="0.48611" stop-color="#ff8b00"/><stop offset="0.49074" stop-color="#ff7600"/><stop offset="0.49537" stop-color="#ff5f00"/><stop offset="0.50000" stop-color="#ff4600"/><stop offset="0.50463" stop-color="#ff3100"/><stop offset="0.50926" stop-color="#ff2600"/><stop offset="0.51389" stop-color="#ff1500"/><stop offset="0.51852" stop-color="#ea0200"/><stop offset="0.52315" stop-color="#dc0000"/><stop offset="0.52778" stop-color="#cf0000"/><stop offset="0.53241" stop-color="#c20000"/><stop offset="0.53704" stop-color="#b70000"/><stop offset="0.54167" stop-color="#ac0000"/><stop offset="0.54630" stop-color="#a30000"/><stop offset="0.55093" stop-color="#9c0000"/><stop offset="0.55556" stop-color="#940000"/><stop offset="0.56019" stop-color="#940000"/><stop offset="0.56481" stop-color="#930000"/><stop offset="0.56944" stop-color="#930000"/><stop offset="0.57407" stop-color="#920000"/><stop offset="0.57870" stop-color="#920000"/><stop offset="0.58333" stop-color="#910000"/><stop offset="0.65741" stop-color="#910000"/><stop offset="0.66204" stop-color="#a10000"/><stop offset="0.66667" stop-color="#b90000"/><stop offset="0.67130" stop-color="#bc0000"/><stop offset="0.67593" stop-color="#be0000"/><stop offset="0.68056" stop-color="#bf0000"/><stop offset="0.68519" stop-color="#bd0000"/><stop offset="0.68981" stop-color="#bc0000"/><stop offset="0.69444" stop-color="#bb0000"/><stop offset="0.69907" stop-color="#ba0000"/><stop offset="0.70370" stop-color="#bc0000"/><stop offset="0.70833" stop-color="#c70000"/><stop offset="0.71296" stop-color="#f20800"/><stop offset="0.71759" stop-color="#fe1200"/><stop offset="0.72222" stop-color="#ff1b00"/><stop offset="0.72685" stop-color="#ff2400"/><stop offset="0.73148" stop-color="#ff2d00"/><stop offset="0.73611" stop-color="#ff3600"/><stop offset="0.74074" stop-color="#ff3f00"/><stop offset="0.74537" stop-color="#ff4800"/><stop offset="0.75000" stop-color="#ff5000"/><stop offset="0.75463" stop-color="#ff5f00"/><stop offset="0.75926" stop-color="#ff6d00"/><stop offset="0.76389" stop-color="#ff8100"/><stop offset="0.76852" stop-color="#ffa000"/><stop offset="0.77315" stop-color="#ffc300"/><stop offset="0.77778" stop-color="#ffe700"/><stop offset="0.78241" stop-color="#ecff0b"/><stop offset="0.78704" stop-color="#dbff1b"/><stop offset="0.79167" stop-color="#cfff28"/><stop offset="0.79630" stop-color="#c3ff34"/><stop offset="0.80093" stop-color="#b7ff40"/><stop offset="0.80556" stop-color="#acff4b"/><stop offset="0.81019" stop-color="#a1ff56"/><stop offset="0.81481" stop-color="#95ff61"/><stop offset="0.81944" stop-color="#8aff6c"/><stop offset="0.82407" stop-color="#82ff75"/><stop offset="0.82870" stop-color="#7dff7a"/><stop offset="0.83333" stop-color="#79ff7e"/><stop offset="0.83796" stop-color="#74ff83"/><stop offset="0.84259" stop-color="#6fff88"/><stop offset="0.84722" stop-color="#6aff8d"/><stop offset="0.85185" stop-color="#68ff8f"/><stop offset="0.85648" stop-color="#6aff8d"/><stop offset="0.86111" stop-color="#6cff8b"/><stop offset="0.86574" stop-color="#6eff89"/><stop offset="0.87037" stop-color="#6fff88"/><stop offset="0.88426" stop-color="#6fff88"/><stop offset="0.88889" stop-color="#52ffa5"/><stop offset="0.89352" stop-color="#3bffbb"/><stop offset="0.89815" stop-color="#25ffd2"/><stop offset="0.90278" stop-color="#13fce4"/><stop offset="0.90741" stop-color="#01e7f5"/><stop offset="0.91204" stop-color="#00e0fb"/><stop offset="0.91667" stop-color="#00daff"/><stop offset="0.92130" stop-color="#00d4ff"/><stop offset="0.92593" stop-color="#00ceff"/><stop offset="0.93056" stop-color="#00cbff"/><stop offset="0.93519" stop-color="#00c9ff"/><stop offset="0.93981" stop-color="#00c7ff"/><stop offset="0.94444" stop-color="#00c5ff"/><stop offset="0.94907" stop-color="#00c4ff"/><stop offset="0.95370" stop-color="#00c2ff"/><stop offset="0.95833" stop-color="#00c0ff"/><stop offset="0.96296" stop-color="#00beff"/><stop offset="0.96759" stop-color="#00bcff"/><stop offset="0.97222" stop-color="#00baff"/><stop offset="0.97685" stop-color="#00b8ff"/><stop offset="0.98148" stop-color="#00b6ff"/><stop offset="0.98611" stop-color="#00b4ff"/><stop offset="0.99074" stop-color="#00b2ff"/><stop offset="0.99537" stop-color="#00b0ff"/><stop offset="1.00000" stop-color="#00adff"/></linearGradient>
<linearGradient id="g310" x1="0" y1="0" x2="1" y2="0"><stop offset="0.00000" stop-color="#c1ff35"/><stop offset="0.00463" stop-color="#c2ff34"/><stop offset="0.00926" stop-color="#c3ff33"/><stop offset="0.01389" stop-color="#c4ff32"/><stop offset="0.01852" stop-color="#c5ff31"/><stop offset="0.02315" stop-color="#c6ff30"/><stop offset="0.02778" stop-color="#c8ff2f"/><stop offset="0.03241" stop-color="#c9ff2e"/><stop offset="0.03704" stop-color="#caff2c"/><stop offset="0.04167" stop-color="#d4ff22"/><stop offset="0.04630" stop-color="#deff18"/><stop offset="0.05093" stop-color="#e9ff0e"/><stop offset="0.05556" stop-color="#f7f600"/><stop offset="0.06019" stop-color="#ffe800"/><stop offset="0.06481" stop-color="#ffdb00"/><stop offset="0.06944" stop-color="#ffcf00"/><stop offset="0.07407" stop-color="#ffc600"/><stop offset="0.07870" stop-color="#ffbd00"/><stop offset="0.08333" stop-color="#ffb500"/><stop offset="0.08796" stop-color="#ffb000"/><stop offset="0.09259" stop-color="#ffb300"/><stop offset="0.09722" stop-color="#ffb900"/><stop offset="0.10185" stop-color="#ffbb00"/><stop offset="0.10648" stop-color="#ffb700"/><stop offset="0.11111" stop-color="#ffb300"/><stop offset="0.11574" stop-color="#ffb600"/><stop offset="0.12037" stop-color="#ffb900"/><stop offset="0.12500" stop-color="#ffbc00"/><stop offset="0.12963" stop-color="#ffbd00"/><stop offset="0.13426" stop-color="#ffbe00"/><stop offset="0.14352" stop-color="#ffbe00"/><stop offset="0.14815" stop-color="#ffbf00"/><stop offset="0.15278" stop-color="#ffbf00"/><stop offset="0.15741" stop-color="#ffc000"/><stop offset="0.16204" stop-color="#ffc000"/><stop offset="0.16667" stop-color="#ffc100"/><stop offset="0.17593" stop-color="#ffc100"/><stop offset="0.18056" stop-color="#ffbc00"/><stop offset="0.18519" stop-color="#ffb200"/><stop offset="0.18981" stop-color="#ffa900"/><stop offset="0.19444" stop-color="#ffa300"/><stop offset="0.19907" stop-color="#ff9d00"/><stop offset="0.20370" stop-color="#ff9700"/><stop offset="0.20833" stop-color="#ff9100"/><stop offset="0.21296" stop-color="#ff8400"/><stop offset="0.21759" stop-color="#ff6d00"/><stop offset="0.22222" stop-color="#ff5500"/><stop offset="0.22685" stop-color="#ff5900"/><stop offset="0.23148" stop-color="#ff5d00"/><stop offset="0.23611" stop-color="#ff5e00"/><stop offset="0.27778" stop-color="#ff5e00"/><stop offset="0.28241" stop-color="#ff6100"/><stop offset="0.28704" stop-color="#ff6a00"/><stop offset="0.29167" stop-color="#ff7200"/><stop offset="0.29630" stop-color="#ff7700"/><stop offset="0.30093" stop-color="#ff7d00"/><stop offset="0.30556" stop-color="#ff8200"/><stop offset="0.31019" stop-color="#ff8800"/><stop offset="0.31481" stop-color="#ff8b00"/><stop offset="0.31944" stop-color="#ff8c00"/><stop offset="0.32407" stop-color="#ff8e00"/><stop offset="0.32870" stop-color="#ff9000"/><stop offset="0.33333" stop-color="#ff9200"/><stop offset="0.37963" stop-color="#ff9200"/><stop offset="0.38426" stop-color="#ff9300"/><stop offset="0.38889" stop-color="#ff9700"/><stop offset="0.39352" stop-color="#ff9b00"/><stop offset="0.39815" stop-color="#ff9f00"/><stop offset="0.40278" stop-color="#ffa400"/><stop offset="0.40741" stop-color="#ffa800"/><stop offset="0.41204" stop-color="#ffab00"/><stop offset="0.41667" stop-color="#ffac00"/><stop offset="0.42130" stop-color="#ffad00"/><stop offset="0.42593" stop-color="#ffae00"/><stop offset="0.43056" stop-color="#ffaf00"/><stop offset="0.43519" stop-color="#ffb200"/><stop offset="0.43981" stop-color="#ffb500"/><stop offset="0.44444" stop-color="#ffb800"/><stop offset="0.47222" stop-color="#ffb800"/><stop offset="0.47685" stop-color="#ffae00"/><stop offset="0.48148" stop-color="#ffa400"/><stop offset="0.48611" stop-color="#ff9a00"/><stop offset="0.49074" stop-color="#ff8d00"/><stop offset="0.49537" stop-color="#ff8000"/><stop offset="0.50000" stop-color="#ff7300"/><stop offset="0.50463" stop-color="#ff6900"/><stop offset="0.50926" stop-color="#ff5e00"/><stop offset="0.51389" stop-color="#ff5200"/><stop offset="0.51852" stop-color="#ff4500"/><stop offset="0.52315" stop-color="#ff3800"/><stop offset="0.52778" stop-color="#ff3000"/><stop offset="0.53241" stop-color="#ff2b00"/><stop offset="0.53704" stop-color="#ff2700"/><stop offset="0.54167" stop-color="#ff2100"/><stop offset="0.54630" stop-color="#ff1c00"/><stop offset="0.55093" stop-color="#ff1400"/><stop offset="0.55556" stop-color="#e80000"/><stop offset="0.56019" stop-color="#e30000"/><stop offset="0.56481" stop-color="#de0000"/><stop offset="0.56944" stop-color="#d90000"/><stop offset="0.57407" stop-color="#d60000"/><stop offset="0.57870" stop-color="#d40000"/><stop offset="0.58333" stop-color="#d30000"/><stop offset="0.58796" stop-color="#d10000"/><stop offset="0.65741" stop-color="#d10000"/><stop offset="0.66204" stop-color="#e10000"/><stop offset="0.66667" stop-color="#f90e00"/><stop offset="0.67130" stop-color="#ff1c00"/><stop offset="0.70370" stop-color="#ff1c00"/><stop offset="0.70833" stop-color="#ff3400"/><stop offset="0.71296" stop-color="#ff5000"/><stop offset="0.71759" stop-color="#ff5c00"/><stop offset="0.72222" stop-color="#ff6700"/><stop offset="0.72685" stop-color="#ff7300"/><stop offset="0.73148" stop-color="#ff7e00"/><stop offset="0.73611" stop-color="#ff8600"/><stop offset="0.74074" stop-color="#ff8f00"/><stop offset="0.74537" stop-color="#ff9800"/><stop offset="0.75000" stop-color="#ffa100"/><stop offset="0.75463" stop-color="#ffb100"/><stop offset="0.75926" stop-color="#ffc100"/><stop offset="0.76389" stop-color="#ffd500"/><stop offset="0.76852" stop-color="#faf100"/><stop offset="0.77315" stop-color="#ebff0c"/><stop offset="0.77778" stop-color="#dfff18"/><stop offset="0.78241" stop-color="#d2ff25"/><stop offset="0.78704" stop-color="#c5ff32"/><stop offset="0.79167" stop-color="#b8ff3f"/><stop offset="0.79630" stop-color="#abff4c"/><stop offset="0.80093" stop-color="#9fff58"/><stop offset="0.80556" stop-color="#97ff60"/><stop offset="0.81019" stop-color="#8fff67"/><stop offset="0.81481" stop-color="#88ff6f"/><stop offset="0.81944" stop-color="#80ff77"/><stop offset="0.82407" stop-color="#7aff7d"/><stop offset="0.82870" stop-color="#77ff80"/><stop offset="0.83333" stop-color="#73ff84"/><stop offset="0.83796" stop-color="#6fff88"/><stop offset="0.84259" stop-color="#6aff8d"/><stop offset="0.84722" stop-color="#65ff91"/><stop offset="0.85185" stop-color="#61ff96"/><stop offset="0.85648" stop-color="#5dff99"/><stop offset="0.86111" stop-color="#5aff9d"/><stop offset="0.86574" stop-color="#56ffa1"/><stop offset="0.87037" stop-color="#52ffa4"/><stop offset="0.87500" stop-color="#4fffa8"/><stop offset="0.87963" stop-color="#42ffb5"/><stop offset="0.88426" stop-color="#33ffc3"/><stop offset="0.88889" stop-color="#25ffd2"/><stop offset="0.89352" stop-color="#0df6ea"/><stop offset="0.89815" stop-color="#03e9f4"/><stop offset="0.90278" stop-color="#00e0fb"/><stop offset="0.90741" stop-color="#00d7ff"/><stop offset="0.91204" stop-color="#00d4ff"/><stop offset="0.91667" stop-color="#00d2ff"/><stop offset="0.92130" stop-color="#00d0ff"/><stop offset="0.92593" stop-color="#00ceff"/><stop offset="0.93056" stop-color="#00cbff"/><stop offset="0.93519" stop-color="#00c9ff"/><stop offset="0.93981" stop-color="#00c7ff"/><stop offset="0.94444" stop-color="#00c5ff"/><stop offset="0.94907" stop-color="#00c3ff"/><stop offset="0.95370" stop-color="#00c2ff"/><stop offset="0.95833" stop-color="#00c0ff"/><stop offset="0.96296" stop-color="#00beff"/><stop offset="0.96759" stop-color="#00bcff"/><stop offset="0.97222" stop-color="#00baff"/><stop offset="0.97685" stop-color="#00b8ff"/><stop offset="0.98148" stop-color="#00b5ff"/><stop offset="0.98611" stop-color="#00b1ff"/><stop offset="0.99074" stop-color="#00acff"/><stop offset="0.99537" stop-color="#00a8ff"/><stop offset="1.00000" stop-color="#00a3ff"/></linearGradient>
<linearGradient id="g340" x1="0" y1="0" x2="1" y2="0"><stop offset="0.00000" stop-color="#a5ff52"/><stop offset="0.00463" stop-color="#a9ff4e"/><stop offset="0.00926" stop-color="#adff4a"/><stop offset="0.01389" stop-color="#b1ff46"/><stop offset="0.01852" stop-color="#b5ff42"/><stop offset="0.02315" stop-color="#b9ff3e"/><stop offset="0.02778" stop-color="#c0ff36"/><stop offset="0.03241" stop-color="#c8ff2f"/><stop offset="0.03704" stop-color="#d0ff27"/><stop offset="0.04167" stop-color="#d7ff20"/><stop offset="0.04630" stop-color="#deff19"/><stop offset="0.05093" stop-color="#e4ff13"/><stop offset="0.05556" stop-color="#eaff0c"/><stop offset="0.06019" stop-color="#efff08"/><stop offset="0.06481" stop-color="#f3fa04"/><stop offset="0.06944" stop-color="#f7f600"/><stop offset="0.07870" stop-color="#f7f600"/><stop offset="0.08333" stop-color="#f3fa04"/><stop offset="0.08796" stop-color="#eaff0d"/><stop offset="0.09259" stop-color="#e2ff15"/><stop offset="0.09722" stop-color="#deff19"/><stop offset="0.10185" stop-color="#deff19"/><stop offset="0.10648" stop-color="#e4ff13"/><stop offset="0.11111" stop-color="#f1fd06"/><stop offset="0.11574" stop-color="#f8f400"/><stop offset="0.12037" stop-color="#fbf100"/><stop offset="0.12500" stop-color="#fdee00"/><stop offset="0.12963" stop-color="#fdee00"/><stop offset="0.13426" stop-color="#f9f300"/><stop offset="0.13889" stop-color="#f5f702"/><stop offset="0.14352" stop-color="#faf200"/><stop offset="0.14815" stop-color="#ffec00"/><stop offset="0.15278" stop-color="#ffe800"/><stop offset="0.15741" stop-color="#ffe900"/><stop offset="0.16204" stop-color="#ffea00"/><stop offset="0.16667" stop-color="#ffeb00"/><stop offset="0.17130" stop-color="#ffec00"/><stop offset="0.17593" stop-color="#fcf000"/><stop offset="0.18056" stop-color="#f9f300"/><stop offset="0.18519" stop-color="#f6f701"/><stop offset="0.18981" stop-color="#f3fa04"/><stop offset="0.19444" stop-color="#fbf100"/><stop offset="0.19907" stop-color="#ffe700"/><stop offset="0.20370" stop-color="#ffdd00"/><stop offset="0.20833" stop-color="#ffcb00"/><stop offset="0.21296" stop-color="#ffba00"/><stop offset="0.21759" stop-color="#ffab00"/><stop offset="0.22222" stop-color="#ff9c00"/><stop offset="0.22685" stop-color="#ffa200"/><stop offset="0.23148" stop-color="#ffa900"/><stop offset="0.23611" stop-color="#ffb000"/><stop offset="0.24074" stop-color="#ffb600"/><stop offset="0.24537" stop-color="#ffbd00"/><stop offset="0.25000" stop-color="#ffc300"/><stop offset="0.25463" stop-color="#ffc800"/><stop offset="0.25926" stop-color="#ffce00"/><stop offset="0.26389" stop-color="#ffd300"/><stop offset="0.26852" stop-color="#ffd800"/><stop offset="0.27315" stop-color="#ffdd00"/><stop offset="0.27778" stop-color="#ffe900"/><stop offset="0.28241" stop-color="#f5f702"/><stop offset="0.28704" stop-color="#ecff0b"/><stop offset="0.29167" stop-color="#eaff0c"/><stop offset="0.29630" stop-color="#f6f701"/><stop offset="0.30093" stop-color="#ffea00"/><stop offset="0.30556" stop-color="#ffe000"/><stop offset="0.31019" stop-color="#ffd600"/><stop offset="0.31481" stop-color="#ffd400"/><stop offset="0.31944" stop-color="#ffd300"/><stop offset="0.32407" stop-color="#ffd200"/><stop offset="0.32870" stop-color="#ffd100"/><stop offset="0.33333" stop-color="#ffd000"/><stop offset="0.33796" stop-color="#ffd800"/><stop offset="0.34259" stop-color="#ffe000"/><stop offset="0.34722" stop-color="#ffe200"/><stop offset="0.36111" stop-color="#ffe200"/><stop offset="0.36574" stop-color="#ffe100"/><stop offset="0.37963" stop-color="#ffe100"/><stop offset="0.38426" stop-color="#ffe000"/><stop offset="0.39352" stop-color="#ffe000"/><stop offset="0.39815" stop-color="#ffdf00"/><stop offset="0.41204" stop-color="#ffdf00"/><stop offset="0.41667" stop-color="#ffde00"/><stop offset="0.42130" stop-color="#ffde00"/><stop offset="0.42593" stop-color="#ffe100"/><stop offset="0.43056" stop-color="#ffe500"/><stop offset="0.43519" stop-color="#ffe800"/><stop offset="0.43981" stop-color="#ffec00"/><stop offset="0.44444" stop-color="#feed00"/><stop offset="0.44907" stop-color="#ffe900"/><stop offset="0.45370" stop-color="#ffe100"/><stop offset="0.45833" stop-color="#ffd800"/><stop offset="0.46296" stop-color="#ffcf00"/><stop offset="0.46759" stop-color="#ffc700"/><stop offset="0.47222" stop-color="#ffbf00"/><stop offset="0.47685" stop-color="#ffb700"/><stop offset="0.48148" stop-color="#ffb100"/><stop offset="0.48611" stop-color="#ffad00"/><stop offset="0.49074" stop-color="#ffa800"/><stop offset="0.49537" stop-color="#ffa400"/><stop offset="0.50000" stop-color="#ffa000"/><stop offset="0.50463" stop-color="#ff9c00"/><stop offset="0.50926" stop-color="#ff9900"/><stop offset="0.51389" stop-color="#ff9500"/><stop offset="0.51852" stop-color="#ff9100"/><stop offset="0.52315" stop-color="#ff8b00"/><stop offset="0.52778" stop-color="#ff8400"/><stop offset="0.53241" stop-color="#ff7e00"/><stop offset="0.53704" stop-color="#ff7900"/><stop offset="0.54167" stop-color="#ff7300"/><stop offset="0.54630" stop-color="#ff6f00"/><stop offset="0.55093" stop-color="#ff6b00"/><stop offset="0.55556" stop-color="#ff6800"/><stop offset="0.56019" stop-color="#ff6500"/><stop offset="0.56481" stop-color="#ff6300"/><stop offset="0.56944" stop-color="#ff6000"/><stop offset="0.57407" stop-color="#ff5c00"/><stop offset="0.57870" stop-color="#ff5500"/><stop offset="0.58333" stop-color="#ff4f00"/><stop offset="0.58796" stop-color="#ff4800"/><stop offset="0.59259" stop-color="#ff4400"/><stop offset="0.59722" stop-color="#ff4200"/><stop offset="0.60185" stop-color="#ff3f00"/><stop offset="0.60648" stop-color="#ff3c00"/><stop offset="0.61111" stop-color="#ff3900"/><stop offset="0.63889" stop-color="#ff3900"/><stop offset="0.64352" stop-color="#ff3b00"/><stop offset="0.64815" stop-color="#ff3d00"/><stop offset="0.65278" stop-color="#ff3f00"/><stop offset="0.65741" stop-color="#ff4100"/><stop offset="0.66204" stop-color="#ff4600"/><stop offset="0.66667" stop-color="#ff4c00"/><stop offset="0.67130" stop-color="#ff4f00"/><stop offset="0.67593" stop-color="#ff5100"/><stop offset="0.68056" stop-color="#ff5400"/><stop offset="0.68519" stop-color="#ff5700"/><stop offset="0.68981" stop-color="#ff5b00"/><stop offset="0.69444" stop-color="#ff6300"/><stop offset="0.69907" stop-color="#ff6a00"/><stop offset="0.70370" stop-color="#ff7300"/><stop offset="0.70833" stop-color="#ff8700"/><stop offset="0.71296" stop-color="#ff9a00"/><stop offset="0.71759" stop-color="#ffab00"/><stop offset="0.72222" stop-color="#ffb900"/><stop offset="0.72685" stop-color="#ffc700"/><stop offset="0.73148" stop-color="#ffd400"/><stop offset="0.73611" stop-color="#ffe300"/><stop offset="0.74074" stop-color="#fbf100"/><stop offset="0.74537" stop-color="#eeff09"/><stop offset="0.75000" stop-color="#e2ff15"/><stop offset="0.75463" stop-color="#d7ff20"/><stop offset="0.75926" stop-color="#cbff2b"/><stop offset="0.76389" stop-color="#c3ff33"/><stop offset="0.76852" stop-color="#baff3c"/><stop offset="0.77315" stop-color="#a9ff4d"/><stop offset="0.77778" stop-color="#98ff5f"/><stop offset="0.78241" stop-color="#90ff67"/><stop offset="0.78704" stop-color="#88ff6f"/><stop offset="0.79167" stop-color="#80ff77"/><stop offset="0.79630" stop-color="#7aff7d"/><stop offset="0.80093" stop-color="#76ff81"/><stop offset="0.80556" stop-color="#72ff84"/><stop offset="0.81019" stop-color="#6fff88"/><stop offset="0.81481" stop-color="#6bff8c"/><stop offset="0.81944" stop-color="#67ff90"/><stop offset="0.82407" stop-color="#64ff93"/><stop offset="0.82870" stop-color="#61ff96"/><stop offset="0.83333" stop-color="#5dff9a"/><stop offset="0.83796" stop-color="#5aff9d"/><stop offset="0.84259" stop-color="#57ffa0"/><stop offset="0.84722" stop-color="#53ffa3"/><stop offset="0.85185" stop-color="#50ffa7"/><stop offset="0.85648" stop-color="#4effa9"/><stop offset="0.86111" stop-color="#4cffab"/><stop offset="0.86574" stop-color="#4bffac"/><stop offset="0.87037" stop-color="#44ffb3"/><stop offset="0.87500" stop-color="#30ffc7"/><stop offset="0.87963" stop-color="#12fbe5"/><stop offset="0.88426" stop-color="#00dbff"/><stop offset="0.88889" stop-color="#00c2ff"/><stop offset="0.89352" stop-color="#00c1ff"/><stop offset="0.89815" stop-color="#00bfff"/><stop offset="0.90278" stop-color="#00beff"/><stop offset="0.90741" stop-color="#00bdff"/><stop offset="0.91204" stop-color="#00bcff"/><stop offset="0.91667" stop-color="#00bbff"/><stop offset="0.92130" stop-color="#00b9ff"/><stop offset="0.92593" stop-color="#00b8ff"/><stop offset="0.93056" stop-color="#00b7ff"/><stop offset="0.93519" stop-color="#00b5ff"/><stop offset="0.93981" stop-color="#00b3ff"/><stop offset="0.94444" stop-color="#00b1ff"/><stop offset="0.94907" stop-color="#00afff"/><stop offset="0.95370" stop-color="#00adff"/><stop offset="0.95833" stop-color="#00acff"/><stop offset="0.96296" stop-color="#00aaff"/><stop offset="0.96759" stop-color="#00a8ff"/><stop offset="0.97222" stop-color="#00a4ff"/><stop offset="0.97685" stop-color="#00a1ff"/><stop offset="0.98148" stop-color="#009dff"/><stop offset="0.98611" stop-color="#0099ff"/><stop offset="0.99074" stop-color="#0096ff"/><stop offset="0.99537" stop-color="#0092ff"/><stop offset="1.00000" stop-color="#008fff"/></linearGradient>
<linearGradient id="g370" x1="0" y1="0" x2="1" y2="0"><stop offset="0.00000" stop-color="#6fff88"/><stop offset="0.00463" stop-color="#75ff82"/><stop offset="0.00926" stop-color="#7aff7c"/><stop offset="0.01389" stop-color="#80ff77"/><stop offset="0.01852" stop-color="#86ff71"/><stop offset="0.02315" stop-color="#8cff6b"/><stop offset="0.02778" stop-color="#90ff67"/><stop offset="0.03241" stop-color="#94ff63"/><stop offset="0.03704" stop-color="#99ff5e"/><stop offset="0.04167" stop-color="#9dff5a"/><stop offset="0.04630" stop-color="#a1ff56"/><stop offset="0.05093" stop-color="#a5ff52"/><stop offset="0.05556" stop-color="#a6ff50"/><stop offset="0.06019" stop-color="#a8ff4f"/><stop offset="0.06481" stop-color="#a9ff4d"/><stop offset="0.06944" stop-color="#abff4c"/><stop offset="0.07407" stop-color="#acff4b"/><stop offset="0.07870" stop-color="#a8ff4f"/><stop offset="0.08333" stop-color="#a1ff56"/><stop offset="0.08796" stop-color="#9aff5d"/><stop offset="0.09259" stop-color="#9dff5a"/><stop offset="0.09722" stop-color="#a3ff53"/><stop offset="0.10185" stop-color="#aaff4d"/><stop offset="0.10648" stop-color="#b4ff43"/><stop offset="0.11111" stop-color="#bdff3a"/><stop offset="0.11574" stop-color="#bfff37"/><stop offset="0.12037" stop-color="#c2ff35"/><stop offset="0.12500" stop-color="#c4ff33"/><stop offset="0.12963" stop-color="#c5ff31"/><stop offset="0.18519" stop-color="#c5ff31"/><stop offset="0.18981" stop-color="#c7ff30"/><stop offset="0.19444" stop-color="#ceff29"/><stop offset="0.19907" stop-color="#d4ff22"/><stop offset="0.20370" stop-color="#ddff1a"/><stop offset="0.20833" stop-color="#e6ff10"/><stop offset="0.21296" stop-color="#f0fe07"/><stop offset="0.21759" stop-color="#f3fa04"/><stop offset="0.22685" stop-color="#f3fa04"/><stop offset="0.23148" stop-color="#edff09"/><stop offset="0.23611" stop-color="#e7ff10"/><stop offset="0.24074" stop-color="#e0ff16"/><stop offset="0.24537" stop-color="#daff1d"/><stop offset="0.25000" stop-color="#d3ff23"/><stop offset="0.25463" stop-color="#cfff28"/><stop offset="0.25926" stop-color="#ccff2b"/><stop offset="0.26389" stop-color="#c8ff2e"/><stop offset="0.26852" stop-color="#c4ff32"/><stop offset="0.27315" stop-color="#bdff3a"/><stop offset="0.27778" stop-color="#b6ff41"/><stop offset="0.28241" stop-color="#aeff48"/><stop offset="0.28704" stop-color="#a6ff51"/><stop offset="0.29167" stop-color="#aeff49"/><stop offset="0.29630" stop-color="#b9ff3e"/><stop offset="0.30093" stop-color="#c2ff35"/><stop offset="0.30556" stop-color="#c3ff34"/><stop offset="0.31019" stop-color="#c4ff33"/><stop offset="0.31481" stop-color="#c5ff32"/><stop offset="0.31944" stop-color="#c7ff30"/><stop offset="0.32407" stop-color="#c8ff2e"/><stop offset="0.32870" stop-color="#caff2d"/><stop offset="0.33333" stop-color="#ccff2b"/><stop offset="0.33796" stop-color="#ccff2b"/><stop offset="0.34259" stop-color="#ccff2a"/><stop offset="0.34722" stop-color="#cdff2a"/><stop offset="0.35648" stop-color="#cdff2a"/><stop offset="0.36111" stop-color="#cdff29"/><stop offset="0.36574" stop-color="#cdff29"/><stop offset="0.37037" stop-color="#ceff29"/><stop offset="0.37963" stop-color="#ceff29"/><stop offset="0.38426" stop-color="#ceff28"/><stop offset="0.38889" stop-color="#cfff28"/><stop offset="0.40278" stop-color="#cfff28"/><stop offset="0.40741" stop-color="#cfff27"/><stop offset="0.41204" stop-color="#d0ff27"/><stop offset="0.42130" stop-color="#d0ff27"/><stop offset="0.42593" stop-color="#d2ff25"/><stop offset="0.43056" stop-color="#d4ff23"/><stop offset="0.43519" stop-color="#d6ff21"/><stop offset="0.43981" stop-color="#d8ff1f"/><stop offset="0.44444" stop-color="#daff1d"/><stop offset="0.44907" stop-color="#ddff1a"/><stop offset="0.45370" stop-color="#dfff18"/><stop offset="0.45833" stop-color="#e2ff15"/><stop offset="0.46296" stop-color="#e5ff12"/><stop offset="0.46759" stop-color="#e7ff10"/><stop offset="0.47222" stop-color="#eaff0d"/><stop offset="0.47685" stop-color="#ecff0b"/><stop offset="0.48148" stop-color="#edff09"/><stop offset="0.48611" stop-color="#efff08"/><stop offset="0.49074" stop-color="#f1fd06"/><stop offset="0.49537" stop-color="#f2fb05"/><stop offset="0.50000" stop-color="#f5f701"/><stop offset="0.50463" stop-color="#f9f300"/><stop offset="0.50926" stop-color="#fdee00"/><stop offset="0.51389" stop-color="#ffea00"/><stop offset="0.51852" stop-color="#ffe600"/><stop offset="0.52315" stop-color="#ffe200"/><stop offset="0.52778" stop-color="#ffdd00"/><stop offset="0.53241" stop-color="#ffd900"/><stop offset="0.53704" stop-color="#ffd500"/><stop offset="0.54167" stop-color="#ffd100"/><stop offset="0.54630" stop-color="#ffce00"/><stop offset="0.55093" stop-color="#ffca00"/><stop offset="0.55556" stop-color="#ffc600"/><stop offset="0.56019" stop-color="#ffcd00"/><stop offset="0.56481" stop-color="#ffcb00"/><stop offset="0.56944" stop-color="#ffc300"/><stop offset="0.57407" stop-color="#ffbb00"/><stop offset="0.57870" stop-color="#ffb600"/><stop offset="0.58333" stop-color="#ffb200"/><stop offset="0.58796" stop-color="#ffaf00"/><stop offset="0.59259" stop-color="#ffac00"/><stop offset="0.59722" stop-color="#ffa800"/><stop offset="0.60185" stop-color="#ffa500"/><stop offset="0.60648" stop-color="#ffa100"/><stop offset="0.61111" stop-color="#ff9e00"/><stop offset="0.61574" stop-color="#ff9c00"/><stop offset="0.62963" stop-color="#ff9c00"/><stop offset="0.63426" stop-color="#ff9d00"/><stop offset="0.63889" stop-color="#ffa000"/><stop offset="0.64352" stop-color="#ffa300"/><stop offset="0.64815" stop-color="#ffa700"/><stop offset="0.65278" stop-color="#ffaa00"/><stop offset="0.65741" stop-color="#ffad00"/><stop offset="0.66204" stop-color="#ffb000"/><stop offset="0.66667" stop-color="#ffb300"/><stop offset="0.67130" stop-color="#ffb600"/><stop offset="0.67593" stop-color="#ffb800"/><stop offset="0.68056" stop-color="#ffba00"/><stop offset="0.68519" stop-color="#ffbd00"/><stop offset="0.68981" stop-color="#ffc300"/><stop offset="0.69444" stop-color="#ffcb00"/><stop offset="0.69907" stop-color="#ffd400"/><stop offset="0.70370" stop-color="#ffe500"/><stop offset="0.70833" stop-color="#f8f400"/><stop offset="0.71296" stop-color="#ebff0b"/><stop offset="0.71759" stop-color="#e5ff12"/><stop offset="0.72222" stop-color="#dfff17"/><stop offset="0.72685" stop-color="#daff1d"/><stop offset="0.73148" stop-color="#d4ff23"/><stop offset="0.73611" stop-color="#cdff2a"/><stop offset="0.74074" stop-color="#c6ff30"/><stop offset="0.74537" stop-color="#c0ff37"/><stop offset="0.75000" stop-color="#b9ff3e"/><stop offset="0.75463" stop-color="#afff48"/><stop offset="0.75926" stop-color="#a4ff53"/><stop offset="0.76389" stop-color="#9aff5d"/><stop offset="0.76852" stop-color="#8fff68"/><stop offset="0.77315" stop-color="#82ff75"/><stop offset="0.77778" stop-color="#73ff83"/><stop offset="0.78241" stop-color="#65ff92"/><stop offset="0.78704" stop-color="#5aff9c"/><stop offset="0.79167" stop-color="#53ffa4"/><stop offset="0.79630" stop-color="#4cffab"/><stop offset="0.80093" stop-color="#45ffb1"/><stop offset="0.80556" stop-color="#42ffb5"/><stop offset="0.81019" stop-color="#3fffb8"/><stop offset="0.81481" stop-color="#3cffbb"/><stop offset="0.81944" stop-color="#39ffbe"/><stop offset="0.82407" stop-color="#36ffc1"/><stop offset="0.82870" stop-color="#33ffc4"/><stop offset="0.83333" stop-color="#30ffc7"/><stop offset="0.83796" stop-color="#2dffca"/><stop offset="0.84259" stop-color="#2affcd"/><stop offset="0.84722" stop-color="#27ffcf"/><stop offset="0.85185" stop-color="#24ffd3"/><stop offset="0.85648" stop-color="#1affdc"/><stop offset="0.86111" stop-color="#11fbe6"/><stop offset="0.86574" stop-color="#07efef"/><stop offset="0.87037" stop-color="#00d7ff"/><stop offset="0.87500" stop-color="#00c0ff"/><stop offset="0.87963" stop-color="#00b2ff"/><stop offset="0.88426" stop-color="#00a5ff"/><stop offset="0.88889" stop-color="#0099ff"/><stop offset="0.89352" stop-color="#0096ff"/><stop offset="0.89815" stop-color="#0093ff"/><stop offset="0.90278" stop-color="#008fff"/><stop offset="0.90741" stop-color="#008cff"/><stop offset="0.91204" stop-color="#0089ff"/><stop offset="0.91667" stop-color="#0088ff"/><stop offset="0.92130" stop-color="#0087ff"/><stop offset="0.92593" stop-color="#0085ff"/><stop offset="0.93056" stop-color="#0084ff"/><stop offset="0.93519" stop-color="#0083ff"/><stop offset="0.93981" stop-color="#0081ff"/><stop offset="0.94444" stop-color="#0080ff"/><stop offset="0.94907" stop-color="#007fff"/><stop offset="0.95370" stop-color="#007dff"/><stop offset="0.95833" stop-color="#007cff"/><stop offset="0.96296" stop-color="#007bff"/><stop offset="0.96759" stop-color="#0079ff"/><stop offset="0.97222" stop-color="#0078ff"/><stop offset="0.97685" stop-color="#0077ff"/><stop offset="0.98148" stop-color="#0075ff"/><stop offset="0.98611" stop-color="#0074ff"/><stop offset="0.99074" stop-color="#0073ff"/><stop offset="0.99537" stop-color="#0071ff"/><stop offset="1.00000" stop-color="#0070ff"/></linearGradient>
<linearGradient id="g400" x1="0" y1="0" x2="1" y2="0"><stop offset="0.00000" stop-color="#00c2ff"/><stop offset="0.00463" stop-color="#00d3ff"/><stop offset="0.00926" stop-color="#00e4f8"/><stop offset="0.01389" stop-color="#0bf3ec"/><stop offset="0.01852" stop-color="#16ffe1"/><stop offset="0.02315" stop-color="#20ffd6"/><stop offset="0.02778" stop-color="#24ffd2"/><stop offset="0.03241" stop-color="#28ffcf"/><stop offset="0.03704" stop-color="#2bffcb"/><stop offset="0.04167" stop-color="#2fffc8"/><stop offset="0.04630" stop-color="#33ffc4"/><stop offset="0.05093" stop-color="#36ffc1"/><stop offset="0.05556" stop-color="#38ffbf"/><stop offset="0.06019" stop-color="#3affbd"/><stop offset="0.06481" stop-color="#3cffbb"/><stop offset="0.06944" stop-color="#3dffba"/><stop offset="0.07407" stop-color="#37ffbf"/><stop offset="0.07870" stop-color="#32ffc5"/><stop offset="0.08333" stop-color="#2cffcb"/><stop offset="0.08796" stop-color="#26ffd1"/><stop offset="0.09259" stop-color="#2bffcb"/><stop offset="0.09722" stop-color="#33ffc4"/><stop offset="0.10185" stop-color="#3bffbc"/><stop offset="0.10648" stop-color="#43ffb4"/><stop offset="0.11111" stop-color="#4affad"/><stop offset="0.19444" stop-color="#4affad"/><stop offset="0.19907" stop-color="#53ffa4"/><stop offset="0.20370" stop-color="#5bff9c"/><stop offset="0.20833" stop-color="#64ff93"/><stop offset="0.21296" stop-color="#63ff94"/><stop offset="0.21759" stop-color="#5dff9a"/><stop offset="0.22222" stop-color="#56ffa0"/><stop offset="0.22685" stop-color="#54ffa3"/><stop offset="0.23148" stop-color="#51ffa6"/><stop offset="0.23611" stop-color="#4effa9"/><stop offset="0.24074" stop-color="#4bffac"/><stop offset="0.24537" stop-color="#48ffaf"/><stop offset="0.25000" stop-color="#45ffb2"/><stop offset="0.25463" stop-color="#42ffb4"/><stop offset="0.25926" stop-color="#3dffba"/><stop offset="0.26389" stop-color="#37ffc0"/><stop offset="0.26852" stop-color="#31ffc6"/><stop offset="0.27315" stop-color="#2bffcc"/><stop offset="0.27778" stop-color="#25ffd2"/><stop offset="0.28241" stop-color="#22ffd4"/><stop offset="0.28704" stop-color="#27ffcf"/><stop offset="0.29167" stop-color="#2cffca"/><stop offset="0.29630" stop-color="#31ffc5"/><stop offset="0.30093" stop-color="#36ffc1"/><stop offset="0.30556" stop-color="#3affbd"/><stop offset="0.31019" stop-color="#3dffba"/><stop offset="0.31481" stop-color="#40ffb6"/><stop offset="0.31944" stop-color="#44ffb3"/><stop offset="0.32407" stop-color="#47ffaf"/><stop offset="0.32870" stop-color="#4bffac"/><stop offset="0.33333" stop-color="#4effa9"/><stop offset="0.33796" stop-color="#51ffa6"/><stop offset="0.34259" stop-color="#54ffa3"/><stop offset="0.34722" stop-color="#57ffa0"/><stop offset="0.35185" stop-color="#5aff9d"/><stop offset="0.35648" stop-color="#5dff9a"/><stop offset="0.36111" stop-color="#60ff97"/><stop offset="0.36574" stop-color="#63ff94"/><stop offset="0.37037" stop-color="#66ff91"/><stop offset="0.37500" stop-color="#67ff90"/><stop offset="0.39815" stop-color="#67ff90"/><stop offset="0.40278" stop-color="#66ff91"/><stop offset="0.40741" stop-color="#61ff95"/><stop offset="0.41204" stop-color="#5dff9a"/><stop offset="0.41667" stop-color="#58ff9f"/><stop offset="0.42130" stop-color="#53ffa4"/><stop offset="0.42593" stop-color="#56ffa1"/><stop offset="0.43056" stop-color="#5aff9d"/><stop offset="0.43519" stop-color="#5eff99"/><stop offset="0.43981" stop-color="#63ff94"/><stop offset="0.44444" stop-color="#67ff90"/><stop offset="0.44907" stop-color="#69ff8e"/><stop offset="0.45370" stop-color="#6bff8c"/><stop offset="0.45833" stop-color="#6dff89"/><stop offset="0.46296" stop-color="#70ff87"/><stop offset="0.46759" stop-color="#72ff85"/><stop offset="0.47222" stop-color="#74ff83"/><stop offset="0.47685" stop-color="#76ff81"/><stop offset="0.48148" stop-color="#78ff7e"/><stop offset="0.48611" stop-color="#7bff7c"/><stop offset="0.49074" stop-color="#7dff7a"/><stop offset="0.49537" stop-color="#7fff78"/><stop offset="0.50000" stop-color="#81ff76"/><stop offset="0.50463" stop-color="#83ff73"/><stop offset="0.50926" stop-color="#86ff71"/><stop offset="0.51389" stop-color="#88ff6f"/><stop offset="0.51852" stop-color="#8aff6d"/><stop offset="0.52315" stop-color="#8cff6a"/><stop offset="0.52778" stop-color="#8fff68"/><stop offset="0.53241" stop-color="#91ff66"/><stop offset="0.53704" stop-color="#93ff64"/><stop offset="0.54167" stop-color="#96ff61"/><stop offset="0.54630" stop-color="#98ff5f"/><stop offset="0.55093" stop-color="#9aff5d"/><stop offset="0.55556" stop-color="#9cff5a"/><stop offset="0.56019" stop-color="#9fff58"/><stop offset="0.56481" stop-color="#a2ff55"/><stop offset="0.56944" stop-color="#a5ff52"/><stop offset="0.57407" stop-color="#a8ff4f"/><stop offset="0.57870" stop-color="#abff4c"/><stop offset="0.58333" stop-color="#adff49"/><stop offset="0.58796" stop-color="#b0ff46"/><stop offset="0.59259" stop-color="#b3ff44"/><stop offset="0.59722" stop-color="#b5ff42"/><stop offset="0.60185" stop-color="#b7ff40"/><stop offset="0.64815" stop-color="#b7ff40"/><stop offset="0.65278" stop-color="#b6ff41"/><stop offset="0.65741" stop-color="#b3ff44"/><stop offset="0.66204" stop-color="#b0ff47"/><stop offset="0.66667" stop-color="#adff4a"/><stop offset="0.67130" stop-color="#a9ff4e"/><stop offset="0.67593" stop-color="#a5ff52"/><stop offset="0.68056" stop-color="#a1ff56"/><stop offset="0.68519" stop-color="#9dff5a"/><stop offset="0.68981" stop-color="#97ff60"/><stop offset="0.69444" stop-color="#90ff66"/><stop offset="0.69907" stop-color="#8aff6d"/><stop offset="0.70370" stop-color="#85ff72"/><stop offset="0.70833" stop-color="#7fff78"/><stop offset="0.71296" stop-color="#79ff7d"/><stop offset="0.71759" stop-color="#70ff87"/><stop offset="0.72222" stop-color="#66ff90"/><stop offset="0.72685" stop-color="#5dff9a"/><stop offset="0.73148" stop-color="#54ffa3"/><stop offset="0.73611" stop-color="#4effa9"/><stop offset="0.74074" stop-color="#47ffb0"/><stop offset="0.74537" stop-color="#40ffb7"/><stop offset="0.75000" stop-color="#3affbd"/><stop offset="0.75463" stop-color="#33ffc4"/><stop offset="0.75926" stop-color="#2cffcb"/><stop offset="0.76389" stop-color="#25ffd2"/><stop offset="0.76852" stop-color="#1cffdb"/><stop offset="0.77315" stop-color="#10f9e7"/><stop offset="0.77778" stop-color="#04ebf3"/><stop offset="0.78241" stop-color="#00e1fa"/><stop offset="0.78704" stop-color="#00d7ff"/><stop offset="0.79167" stop-color="#00d0ff"/><stop offset="0.79630" stop-color="#00ccff"/><stop offset="0.80093" stop-color="#00c8ff"/><stop offset="0.80556" stop-color="#00c5ff"/><stop offset="0.81019" stop-color="#00c1ff"/><stop offset="0.81481" stop-color="#00bdff"/><stop offset="0.81944" stop-color="#00baff"/><stop offset="0.82407" stop-color="#00b7ff"/><stop offset="0.82870" stop-color="#00b4ff"/><stop offset="0.83333" stop-color="#00b2ff"/><stop offset="0.83796" stop-color="#00afff"/><stop offset="0.84259" stop-color="#00adff"/><stop offset="0.84722" stop-color="#00aaff"/><stop offset="0.85185" stop-color="#00a7ff"/><stop offset="0.85648" stop-color="#009eff"/><stop offset="0.86111" stop-color="#0096ff"/><stop offset="0.86574" stop-color="#0089ff"/><stop offset="0.87037" stop-color="#007bff"/><stop offset="0.87500" stop-color="#006dff"/><stop offset="0.87963" stop-color="#005fff"/><stop offset="0.88426" stop-color="#0050ff"/><stop offset="0.88889" stop-color="#0042ff"/><stop offset="0.89352" stop-color="#0041ff"/><stop offset="0.89815" stop-color="#0040ff"/><stop offset="0.90278" stop-color="#0040ff"/><stop offset="0.90741" stop-color="#003fff"/><stop offset="0.91204" stop-color="#003eff"/><stop offset="0.91667" stop-color="#003dff"/><stop offset="0.92130" stop-color="#003bff"/><stop offset="0.92593" stop-color="#003aff"/><stop offset="0.93056" stop-color="#0039ff"/><stop offset="0.93519" stop-color="#0038ff"/><stop offset="0.93981" stop-color="#0037ff"/><stop offset="0.94444" stop-color="#0035ff"/><stop offset="0.94907" stop-color="#0034ff"/><stop offset="0.95370" stop-color="#0033ff"/><stop offset="0.95833" stop-color="#0030ff"/><stop offset="0.96296" stop-color="#002eff"/><stop offset="0.96759" stop-color="#002cff"/><stop offset="0.97222" stop-color="#0029ff"/><stop offset="0.97685" stop-color="#0027ff"/><stop offset="0.98148" stop-color="#0024ff"/><stop offset="0.98611" stop-color="#0022ff"/><stop offset="0.99074" stop-color="#001fff"/><stop offset="0.99537" stop-color="#001aff"/><stop offset="1.00000" stop-color="#0014ff"/></linearGradient>
<linearGradient id="g430" x1="0" y1="0" x2="1" y2="0"><stop offset="0.00000" stop-color="#0080ff"/><stop offset="0.00463" stop-color="#0082ff"/><stop offset="0.00926" stop-color="#0084ff"/><stop offset="0.01389" stop-color="#0087ff"/><stop offset="0.01852" stop-color="#0089ff"/><stop offset="0.02315" stop-color="#008cff"/><stop offset="0.02778" stop-color="#008eff"/><stop offset="0.03241" stop-color="#0090ff"/><stop offset="0.03704" stop-color="#0093ff"/><stop offset="0.04167" stop-color="#0092ff"/><stop offset="0.04630" stop-color="#008fff"/><stop offset="0.05093" stop-color="#008cff"/><stop offset="0.05556" stop-color="#0089ff"/><stop offset="0.06019" stop-color="#0086ff"/><stop offset="0.06481" stop-color="#0083ff"/><stop offset="0.06944" stop-color="#0080ff"/><stop offset="0.07407" stop-color="#007dff"/><stop offset="0.07870" stop-color="#007bff"/><stop offset="0.08333" stop-color="#0081ff"/><stop offset="0.08796" stop-color="#0086ff"/><stop offset="0.09259" stop-color="#008eff"/><stop offset="0.09722" stop-color="#009cff"/><stop offset="0.10185" stop-color="#00a9ff"/><stop offset="0.10648" stop-color="#00b2ff"/><stop offset="0.11111" stop-color="#00b8ff"/><stop offset="0.11574" stop-color="#00beff"/><stop offset="0.12037" stop-color="#00c2ff"/><stop offset="0.20833" stop-color="#00c2ff"/><stop offset="0.21296" stop-color="#00bfff"/><stop offset="0.21759" stop-color="#00b9ff"/><stop offset="0.22222" stop-color="#00b2ff"/><stop offset="0.22685" stop-color="#00b0ff"/><stop offset="0.23148" stop-color="#00aeff"/><stop offset="0.23611" stop-color="#00abff"/><stop offset="0.24074" stop-color="#00a9ff"/><stop offset="0.24537" stop-color="#00a6ff"/><stop offset="0.25000" stop-color="#00a4ff"/><stop offset="0.25463" stop-color="#00a2ff"/><stop offset="0.25926" stop-color="#009fff"/><stop offset="0.26389" stop-color="#0099ff"/><stop offset="0.26852" stop-color="#0091ff"/><stop offset="0.27315" stop-color="#0088ff"/><stop offset="0.27778" stop-color="#007dff"/><stop offset="0.28241" stop-color="#0077ff"/><stop offset="0.28704" stop-color="#007eff"/><stop offset="0.29167" stop-color="#0085ff"/><stop offset="0.29630" stop-color="#008dff"/><stop offset="0.30093" stop-color="#0094ff"/><stop offset="0.30556" stop-color="#009bff"/><stop offset="0.31019" stop-color="#00a2ff"/><stop offset="0.31481" stop-color="#00a7ff"/><stop offset="0.31944" stop-color="#00abff"/><stop offset="0.32407" stop-color="#00afff"/><stop offset="0.32870" stop-color="#00b3ff"/><stop offset="0.33333" stop-color="#00b8ff"/><stop offset="0.33796" stop-color="#00baff"/><stop offset="0.34259" stop-color="#00bcff"/><stop offset="0.34722" stop-color="#00bfff"/><stop offset="0.35185" stop-color="#00c1ff"/><stop offset="0.35648" stop-color="#00c3ff"/><stop offset="0.36111" stop-color="#00c6ff"/><stop offset="0.36574" stop-color="#00c8ff"/><stop offset="0.37037" stop-color="#00caff"/><stop offset="0.37500" stop-color="#00cdff"/><stop offset="0.37963" stop-color="#00cfff"/><stop offset="0.38426" stop-color="#00d1ff"/><stop offset="0.40278" stop-color="#00d1ff"/><stop offset="0.40741" stop-color="#00cdff"/><stop offset="0.41204" stop-color="#00caff"/><stop offset="0.41667" stop-color="#00c6ff"/><stop offset="0.42130" stop-color="#00c3ff"/><stop offset="0.42593" stop-color="#00c3ff"/><stop offset="0.43056" stop-color="#00c4ff"/><stop offset="0.43519" stop-color="#00c5ff"/><stop offset="0.43981" stop-color="#00c6ff"/><stop offset="0.44444" stop-color="#00c7ff"/><stop offset="0.44907" stop-color="#00cdff"/><stop offset="0.45370" stop-color="#00d3ff"/><stop offset="0.45833" stop-color="#00daff"/><stop offset="0.46296" stop-color="#00e0fb"/><stop offset="0.49537" stop-color="#00e0fb"/><stop offset="0.50000" stop-color="#00dffc"/><stop offset="0.50463" stop-color="#00defd"/><stop offset="0.50926" stop-color="#00dcfe"/><stop offset="0.51389" stop-color="#00dbff"/><stop offset="0.51852" stop-color="#00d9ff"/><stop offset="0.52315" stop-color="#00d8ff"/><stop offset="0.52778" stop-color="#00d6ff"/><stop offset="0.53241" stop-color="#00d9ff"/><stop offset="0.53704" stop-color="#00dcff"/><stop offset="0.54167" stop-color="#00dffc"/><stop offset="0.54630" stop-color="#00e3f9"/><stop offset="0.55093" stop-color="#03e9f4"/><stop offset="0.55556" stop-color="#08f0ef"/><stop offset="0.56019" stop-color="#11fae6"/><stop offset="0.56481" stop-color="#19ffdd"/><stop offset="0.56944" stop-color="#1effd8"/><stop offset="0.57407" stop-color="#21ffd6"/><stop offset="0.57870" stop-color="#23ffd3"/><stop offset="0.58333" stop-color="#26ffd1"/><stop offset="0.58796" stop-color="#29ffce"/><stop offset="0.65741" stop-color="#29ffce"/><stop offset="0.66204" stop-color="#27ffcf"/><stop offset="0.66667" stop-color="#25ffd2"/><stop offset="0.67130" stop-color="#20ffd7"/><stop offset="0.67593" stop-color="#1affdc"/><stop offset="0.68056" stop-color="#14fee3"/><stop offset="0.68519" stop-color="#0bf3ec"/><stop offset="0.68981" stop-color="#02e9f4"/><stop offset="0.69444" stop-color="#00e0fb"/><stop offset="0.69907" stop-color="#00d9ff"/><stop offset="0.70370" stop-color="#00d2ff"/><stop offset="0.70833" stop-color="#00cbff"/><stop offset="0.71296" stop-color="#00c3ff"/><stop offset="0.71759" stop-color="#00bcff"/><stop offset="0.72222" stop-color="#00b4ff"/><stop offset="0.72685" stop-color="#00abff"/><stop offset="0.73148" stop-color="#00a3ff"/><stop offset="0.73611" stop-color="#009bff"/><stop offset="0.74074" stop-color="#0093ff"/><stop offset="0.74537" stop-color="#008eff"/><stop offset="0.75000" stop-color="#008aff"/><stop offset="0.75463" stop-color="#0085ff"/><stop offset="0.75926" stop-color="#0080ff"/><stop offset="0.76389" stop-color="#007aff"/><stop offset="0.76852" stop-color="#0073ff"/><stop offset="0.77315" stop-color="#006dff"/><stop offset="0.77778" stop-color="#0066ff"/><stop offset="0.78241" stop-color="#0060ff"/><stop offset="0.78704" stop-color="#005bff"/><stop offset="0.79167" stop-color="#0055ff"/><stop offset="0.79630" stop-color="#0051ff"/><stop offset="0.80093" stop-color="#0050ff"/><stop offset="0.80556" stop-color="#004fff"/><stop offset="0.81019" stop-color="#004dff"/><stop offset="0.81481" stop-color="#004cff"/><stop offset="0.81944" stop-color="#004bff"/><stop offset="0.82407" stop-color="#004aff"/><stop offset="0.82870" stop-color="#0049ff"/><stop offset="0.83333" stop-color="#0047ff"/><stop offset="0.83796" stop-color="#0045ff"/><stop offset="0.84259" stop-color="#0043ff"/><stop offset="0.84722" stop-color="#0041ff"/><stop offset="0.85185" stop-color="#003eff"/><stop offset="0.85648" stop-color="#003aff"/><stop offset="0.86111" stop-color="#0032ff"/><stop offset="0.86574" stop-color="#002aff"/><stop offset="0.87037" stop-color="#0022ff"/><stop offset="0.87500" stop-color="#001aff"/><stop offset="0.87963" stop-color="#0013ff"/><stop offset="0.88426" stop-color="#000eff"/><stop offset="0.88889" stop-color="#000cff"/><stop offset="0.89815" stop-color="#000cff"/><stop offset="0.90278" stop-color="#000bff"/><stop offset="0.91204" stop-color="#000bff"/><stop offset="0.91667" stop-color="#000aff"/><stop offset="0.92593" stop-color="#000aff"/><stop offset="0.93056" stop-color="#0009ff"/><stop offset="0.93981" stop-color="#0009ff"/><stop offset="0.94444" stop-color="#0008ff"/><stop offset="0.94907" stop-color="#0006ff"/><stop offset="0.95370" stop-color="#0005ff"/><stop offset="0.95833" stop-color="#0003ff"/><stop offset="0.96296" stop-color="#0001ff"/><stop offset="0.96759" stop-color="#0000ff"/><stop offset="1.00000" stop-color="#0000ff"/></linearGradient>
<linearGradient id="g460" x1="0" y1="0" x2="1" y2="0"><stop offset="0.00000" stop-color="#0052ff"/><stop offset="0.06019" stop-color="#0052ff"/><stop offset="0.06481" stop-color="#004bff"/><stop offset="0.06944" stop-color="#0042ff"/><stop offset="0.07407" stop-color="#003aff"/><stop offset="0.07870" stop-color="#0034ff"/><stop offset="0.08333" stop-color="#003cff"/><stop offset="0.08796" stop-color="#0043ff"/><stop offset="0.09259" stop-color="#004aff"/><stop offset="0.09722" stop-color="#0052ff"/><stop offset="0.10185" stop-color="#005aff"/><stop offset="0.10648" stop-color="#0063ff"/><stop offset="0.11111" stop-color="#006bff"/><stop offset="0.11574" stop-color="#006cff"/><stop offset="0.12037" stop-color="#006dff"/><stop offset="0.12500" stop-color="#006eff"/><stop offset="0.12963" stop-color="#006eff"/><stop offset="0.13426" stop-color="#006fff"/><stop offset="0.13889" stop-color="#0070ff"/><stop offset="0.19907" stop-color="#0070ff"/><stop offset="0.20370" stop-color="#006eff"/><stop offset="0.20833" stop-color="#006aff"/><stop offset="0.21296" stop-color="#0067ff"/><stop offset="0.21759" stop-color="#0064ff"/><stop offset="0.22222" stop-color="#0061ff"/><stop offset="0.22685" stop-color="#005eff"/><stop offset="0.23148" stop-color="#005cff"/><stop offset="0.23611" stop-color="#005aff"/><stop offset="0.24074" stop-color="#0057ff"/><stop offset="0.24537" stop-color="#0055ff"/><stop offset="0.25000" stop-color="#0052ff"/><stop offset="0.25463" stop-color="#0050ff"/><stop offset="0.25926" stop-color="#004dff"/><stop offset="0.26389" stop-color="#0047ff"/><stop offset="0.26852" stop-color="#003fff"/><stop offset="0.27315" stop-color="#0037ff"/><stop offset="0.27778" stop-color="#002fff"/><stop offset="0.28241" stop-color="#002bff"/><stop offset="0.28704" stop-color="#0034ff"/><stop offset="0.29167" stop-color="#003dff"/><stop offset="0.29630" stop-color="#0046ff"/><stop offset="0.30093" stop-color="#004dff"/><stop offset="0.30556" stop-color="#0052ff"/><stop offset="0.31019" stop-color="#0056ff"/><stop offset="0.31481" stop-color="#005aff"/><stop offset="0.31944" stop-color="#005eff"/><stop offset="0.32407" stop-color="#0063ff"/><stop offset="0.32870" stop-color="#0067ff"/><stop offset="0.33333" stop-color="#006bff"/><stop offset="0.33796" stop-color="#006dff"/><stop offset="0.34259" stop-color="#006fff"/><stop offset="0.34722" stop-color="#0071ff"/><stop offset="0.35185" stop-color="#0073ff"/><stop offset="0.35648" stop-color="#0075ff"/><stop offset="0.36111" stop-color="#0076ff"/><stop offset="0.36574" stop-color="#0078ff"/><stop offset="0.37037" stop-color="#007aff"/><stop offset="0.37500" stop-color="#007cff"/><stop offset="0.37963" stop-color="#007eff"/><stop offset="0.38426" stop-color="#007fff"/><stop offset="0.38889" stop-color="#007eff"/><stop offset="0.39352" stop-color="#007dff"/><stop offset="0.39815" stop-color="#007cff"/><stop offset="0.40278" stop-color="#007bff"/><stop offset="0.40741" stop-color="#007cff"/><stop offset="0.41204" stop-color="#007dff"/><stop offset="0.41667" stop-color="#007eff"/><stop offset="0.42130" stop-color="#007fff"/><stop offset="0.42593" stop-color="#0080ff"/><stop offset="0.43056" stop-color="#0081ff"/><stop offset="0.43519" stop-color="#0082ff"/><stop offset="0.43981" stop-color="#0083ff"/><stop offset="0.44444" stop-color="#0085ff"/><stop offset="0.50000" stop-color="#0085ff"/><stop offset="0.50463" stop-color="#0086ff"/><stop offset="0.50926" stop-color="#0087ff"/><stop offset="0.51389" stop-color="#0088ff"/><stop offset="0.51852" stop-color="#0088ff"/><stop offset="0.52315" stop-color="#0089ff"/><stop offset="0.52778" stop-color="#008aff"/><stop offset="0.53241" stop-color="#008bff"/><stop offset="0.53704" stop-color="#008cff"/><stop offset="0.54167" stop-color="#008cff"/><stop offset="0.54630" stop-color="#008dff"/><stop offset="0.55093" stop-color="#008eff"/><stop offset="0.55556" stop-color="#008fff"/><stop offset="0.56019" stop-color="#0095ff"/><stop offset="0.56481" stop-color="#009cff"/><stop offset="0.56944" stop-color="#00a2ff"/><stop offset="0.57407" stop-color="#00a8ff"/><stop offset="0.57870" stop-color="#00adff"/><stop offset="0.64815" stop-color="#00adff"/><stop offset="0.65278" stop-color="#00a7ff"/><stop offset="0.65741" stop-color="#009fff"/><stop offset="0.66204" stop-color="#0097ff"/><stop offset="0.66667" stop-color="#008fff"/><stop offset="0.67130" stop-color="#008bff"/><stop offset="0.67593" stop-color="#0088ff"/><stop offset="0.68056" stop-color="#0084ff"/><stop offset="0.68519" stop-color="#0081ff"/><stop offset="0.68981" stop-color="#007dff"/><stop offset="0.69444" stop-color="#007aff"/><stop offset="0.69907" stop-color="#0076ff"/><stop offset="0.70370" stop-color="#0072ff"/><stop offset="0.70833" stop-color="#006eff"/><stop offset="0.71296" stop-color="#006aff"/><stop offset="0.71759" stop-color="#0066ff"/><stop offset="0.72222" stop-color="#0061ff"/><stop offset="0.72685" stop-color="#005dff"/><stop offset="0.73148" stop-color="#0059ff"/><stop offset="0.73611" stop-color="#0055ff"/><stop offset="0.74074" stop-color="#0051ff"/><stop offset="0.74537" stop-color="#004dff"/><stop offset="0.75000" stop-color="#0048ff"/><stop offset="0.75463" stop-color="#0044ff"/><stop offset="0.75926" stop-color="#003fff"/><stop offset="0.76389" stop-color="#003bff"/><stop offset="0.76852" stop-color="#0037ff"/><stop offset="0.77315" stop-color="#0032ff"/><stop offset="0.77778" stop-color="#002eff"/><stop offset="0.78241" stop-color="#002cff"/><stop offset="0.78704" stop-color="#002aff"/><stop offset="0.79167" stop-color="#0028ff"/><stop offset="0.79630" stop-color="#0025ff"/><stop offset="0.80093" stop-color="#0023ff"/><stop offset="0.80556" stop-color="#0021ff"/><stop offset="0.81019" stop-color="#001fff"/><stop offset="0.81481" stop-color="#001dff"/><stop offset="0.81944" stop-color="#001bff"/><stop offset="0.82407" stop-color="#0018ff"/><stop offset="0.82870" stop-color="#0015ff"/><stop offset="0.83333" stop-color="#0012ff"/><stop offset="0.83796" stop-color="#000fff"/><stop offset="0.84259" stop-color="#000cff"/><stop offset="0.84722" stop-color="#0009ff"/><stop offset="0.85185" stop-color="#0006ff"/><stop offset="0.85648" stop-color="#0003ff"/><stop offset="0.86111" stop-color="#0000ff"/><stop offset="0.88889" stop-color="#0000ff"/><stop offset="0.89352" stop-color="#0000fe"/><stop offset="0.91204" stop-color="#0000fe"/><stop offset="0.91667" stop-color="#0000fd"/><stop offset="0.93056" stop-color="#0000fd"/><stop offset="0.93519" stop-color="#0000fc"/><stop offset="0.94907" stop-color="#0000fc"/><stop offset="0.95370" stop-color="#0000fb"/><stop offset="0.97222" stop-color="#0000fb"/><stop offset="0.97685" stop-color="#0000fa"/><stop offset="0.99074" stop-color="#0000fa"/><stop offset="0.99537" stop-color="#0000f9"/><stop offset="1.00000" stop-color="#0000f9"/></linearGradient>
<linearGradient id="g490" x1="0" y1="0" x2="1" y2="0"><stop offset="0.00000" stop-color="#0019ff"/><stop offset="0.00463" stop-color="#001aff"/><stop offset="0.00926" stop-color="#001bff"/><stop offset="0.01389" stop-color="#001cff"/><stop offset="0.01852" stop-color="#001cff"/><stop offset="0.02315" stop-color="#001dff"/><stop offset="0.02778" stop-color="#001eff"/><stop offset="0.03704" stop-color="#001eff"/><stop offset="0.04167" stop-color="#001dff"/><stop offset="0.04630" stop-color="#001cff"/><stop offset="0.05093" stop-color="#001bff"/><stop offset="0.05556" stop-color="#001bff"/><stop offset="0.06019" stop-color="#001aff"/><stop offset="0.06481" stop-color="#0014ff"/><stop offset="0.06944" stop-color="#000dff"/><stop offset="0.07407" stop-color="#0006ff"/><stop offset="0.07870" stop-color="#0001ff"/><stop offset="0.08333" stop-color="#0008ff"/><stop offset="0.08796" stop-color="#0010ff"/><stop offset="0.09259" stop-color="#0017ff"/><stop offset="0.09722" stop-color="#001eff"/><stop offset="0.10185" stop-color="#0025ff"/><stop offset="0.10648" stop-color="#002cff"/><stop offset="0.11111" stop-color="#0033ff"/><stop offset="0.20833" stop-color="#0033ff"/><stop offset="0.21296" stop-color="#0030ff"/><stop offset="0.21759" stop-color="#002aff"/><stop offset="0.22222" stop-color="#0024ff"/><stop offset="0.22685" stop-color="#0023ff"/><stop offset="0.23148" stop-color="#0022ff"/><stop offset="0.23611" stop-color="#0022ff"/><stop offset="0.24074" stop-color="#0021ff"/><stop offset="0.24537" stop-color="#0021ff"/><stop offset="0.25000" stop-color="#0020ff"/><stop offset="0.25463" stop-color="#001fff"/><stop offset="0.25926" stop-color="#001fff"/><stop offset="0.26389" stop-color="#0018ff"/><stop offset="0.26852" stop-color="#000eff"/><stop offset="0.27315" stop-color="#0003ff"/><stop offset="0.27778" stop-color="#0000ff"/><stop offset="0.28704" stop-color="#0000ff"/><stop offset="0.29167" stop-color="#000aff"/><stop offset="0.29630" stop-color="#0013ff"/><stop offset="0.30093" stop-color="#001aff"/><stop offset="0.30556" stop-color="#001fff"/><stop offset="0.31019" stop-color="#0023ff"/><stop offset="0.31481" stop-color="#0027ff"/><stop offset="0.31944" stop-color="#002bff"/><stop offset="0.32407" stop-color="#0031ff"/><stop offset="0.32870" stop-color="#003aff"/><stop offset="0.33333" stop-color="#0042ff"/><stop offset="0.33796" stop-color="#0043ff"/><stop offset="0.34259" stop-color="#0043ff"/><stop offset="0.34722" stop-color="#0044ff"/><stop offset="0.35648" stop-color="#0044ff"/><stop offset="0.36111" stop-color="#0045ff"/><stop offset="0.36574" stop-color="#0045ff"/><stop offset="0.37037" stop-color="#0046ff"/><stop offset="0.37500" stop-color="#0046ff"/><stop offset="0.37963" stop-color="#0047ff"/><stop offset="0.38889" stop-color="#0047ff"/><stop offset="0.39352" stop-color="#0048ff"/><stop offset="0.39815" stop-color="#0048ff"/><stop offset="0.40278" stop-color="#0049ff"/><stop offset="0.40741" stop-color="#0049ff"/><stop offset="0.41204" stop-color="#004aff"/><stop offset="0.42130" stop-color="#004aff"/><stop offset="0.42593" stop-color="#004bff"/><stop offset="0.43056" stop-color="#004bff"/><stop offset="0.43519" stop-color="#004cff"/><stop offset="0.43981" stop-color="#004cff"/><stop offset="0.44444" stop-color="#004dff"/><stop offset="0.45370" stop-color="#004dff"/><stop offset="0.45833" stop-color="#004eff"/><stop offset="0.46296" stop-color="#004eff"/><stop offset="0.46759" stop-color="#004fff"/><stop offset="0.47222" stop-color="#004fff"/><stop offset="0.47685" stop-color="#0050ff"/><stop offset="0.48148" stop-color="#0050ff"/><stop offset="0.48611" stop-color="#0051ff"/><stop offset="0.49537" stop-color="#0051ff"/><stop offset="0.50000" stop-color="#0053ff"/><stop offset="0.50463" stop-color="#0054ff"/><stop offset="0.50926" stop-color="#0056ff"/><stop offset="0.51389" stop-color="#0058ff"/><stop offset="0.51852" stop-color="#0059ff"/><stop offset="0.52315" stop-color="#005bff"/><stop offset="0.52778" stop-color="#005cff"/><stop offset="0.53241" stop-color="#005eff"/><stop offset="0.53704" stop-color="#0060ff"/><stop offset="0.54167" stop-color="#0061ff"/><stop offset="0.54630" stop-color="#0063ff"/><stop offset="0.55093" stop-color="#0064ff"/><stop offset="0.55556" stop-color="#0066ff"/><stop offset="0.63889" stop-color="#0066ff"/><stop offset="0.64352" stop-color="#0063ff"/><stop offset="0.64815" stop-color="#0061ff"/><stop offset="0.65278" stop-color="#005eff"/><stop offset="0.65741" stop-color="#005cff"/><stop offset="0.66204" stop-color="#0059ff"/><stop offset="0.66667" stop-color="#0057ff"/><stop offset="0.67130" stop-color="#0054ff"/><stop offset="0.67593" stop-color="#0051ff"/><stop offset="0.68056" stop-color="#004eff"/><stop offset="0.68519" stop-color="#004bff"/><stop offset="0.68981" stop-color="#0049ff"/><stop offset="0.69444" stop-color="#0046ff"/><stop offset="0.69907" stop-color="#0043ff"/><stop offset="0.70370" stop-color="#0040ff"/><stop offset="0.70833" stop-color="#003dff"/><stop offset="0.71296" stop-color="#003aff"/><stop offset="0.71759" stop-color="#0037ff"/><stop offset="0.72222" stop-color="#0034ff"/><stop offset="0.72685" stop-color="#0031ff"/><stop offset="0.73148" stop-color="#002eff"/><stop offset="0.73611" stop-color="#002bff"/><stop offset="0.74074" stop-color="#0028ff"/><stop offset="0.74537" stop-color="#0023ff"/><stop offset="0.75000" stop-color="#001fff"/><stop offset="0.75463" stop-color="#001aff"/><stop offset="0.75926" stop-color="#0015ff"/><stop offset="0.76389" stop-color="#0010ff"/><stop offset="0.76852" stop-color="#000cff"/><stop offset="0.77315" stop-color="#0008ff"/><stop offset="0.77778" stop-color="#0004ff"/><stop offset="0.78241" stop-color="#0000ff"/><stop offset="0.83796" stop-color="#0000ff"/><stop offset="0.84259" stop-color="#0000fe"/><stop offset="0.84722" stop-color="#0000fc"/><stop offset="0.85185" stop-color="#0000fa"/><stop offset="0.85648" stop-color="#0000f8"/><stop offset="0.86111" stop-color="#0000f7"/><stop offset="0.86574" stop-color="#0000f5"/><stop offset="0.87037" stop-color="#0000f3"/><stop offset="0.87500" stop-color="#0000f1"/><stop offset="0.87963" stop-color="#0000ef"/><stop offset="0.88426" stop-color="#0000ee"/><stop offset="0.89352" stop-color="#0000ee"/><stop offset="0.89815" stop-color="#0000ef"/><stop offset="0.91204" stop-color="#0000ef"/><stop offset="0.91667" stop-color="#0000f0"/><stop offset="0.92130" stop-color="#0000f0"/><stop offset="0.92593" stop-color="#0000ef"/><stop offset="0.93056" stop-color="#0000ee"/><stop offset="0.93519" stop-color="#0000ed"/><stop offset="0.93981" stop-color="#0000ec"/><stop offset="0.94444" stop-color="#0000eb"/><stop offset="0.94907" stop-color="#0000ea"/><stop offset="0.95370" stop-color="#0000e9"/><stop offset="0.95833" stop-color="#0000e8"/><stop offset="0.96296" stop-color="#0000e7"/><stop offset="0.96759" stop-color="#0000e6"/><stop offset="0.97222" stop-color="#0000e5"/><stop offset="0.97685" stop-color="#0000e3"/><stop offset="0.98148" stop-color="#0000e2"/><stop offset="0.98611" stop-color="#0000e0"/><stop offset="0.99074" stop-color="#0000dd"/><stop offset="0.99537" stop-color="#0000da"/><stop offset="1.00000" stop-color="#0000d6"/></linearGradient>
<linearGradient id="g520" x1="0" y1="0" x2="1" y2="0"><stop offset="0.00000" stop-color="#000fff"/><stop offset="0.06019" stop-color="#000fff"/><stop offset="0.06481" stop-color="#000cff"/><stop offset="0.06944" stop-color="#0008ff"/><stop offset="0.07407" stop-color="#0003ff"/><stop offset="0.07870" stop-color="#0001ff"/><stop offset="0.08333" stop-color="#0005ff"/><stop offset="0.08796" stop-color="#0009ff"/><stop offset="0.09259" stop-color="#000eff"/><stop offset="0.09722" stop-color="#0011ff"/><stop offset="0.10185" stop-color="#0014ff"/><stop offset="0.10648" stop-color="#0017ff"/><stop offset="0.11111" stop-color="#0019ff"/><stop offset="0.21296" stop-color="#0019ff"/><stop offset="0.21759" stop-color="#0018ff"/><stop offset="0.22222" stop-color="#0016ff"/><stop offset="0.22685" stop-color="#0015ff"/><stop offset="0.23148" stop-color="#0013ff"/><stop offset="0.23611" stop-color="#0012ff"/><stop offset="0.24074" stop-color="#0010ff"/><stop offset="0.24537" stop-color="#000fff"/><stop offset="0.25000" stop-color="#000cff"/><stop offset="0.25463" stop-color="#0009ff"/><stop offset="0.25926" stop-color="#0006ff"/><stop offset="0.26389" stop-color="#0003ff"/><stop offset="0.26852" stop-color="#0001ff"/><stop offset="0.27315" stop-color="#0000ff"/><stop offset="0.28704" stop-color="#0000ff"/><stop offset="0.29167" stop-color="#0001ff"/><stop offset="0.29630" stop-color="#0003ff"/><stop offset="0.30093" stop-color="#0006ff"/><stop offset="0.30556" stop-color="#0008ff"/><stop offset="0.31019" stop-color="#000aff"/><stop offset="0.31481" stop-color="#000cff"/><stop offset="0.31944" stop-color="#000eff"/><stop offset="0.32407" stop-color="#0010ff"/><stop offset="0.32870" stop-color="#0012ff"/><stop offset="0.33333" stop-color="#0014ff"/><stop offset="0.33796" stop-color="#0015ff"/><stop offset="0.34259" stop-color="#0016ff"/><stop offset="0.34722" stop-color="#0017ff"/><stop offset="0.35185" stop-color="#0018ff"/><stop offset="0.35648" stop-color="#0019ff"/><stop offset="0.36111" stop-color="#0019ff"/><stop offset="0.36574" stop-color="#001aff"/><stop offset="0.37037" stop-color="#001bff"/><stop offset="0.37500" stop-color="#001cff"/><stop offset="0.37963" stop-color="#001dff"/><stop offset="0.38426" stop-color="#001eff"/><stop offset="0.38889" stop-color="#001fff"/><stop offset="0.39815" stop-color="#001fff"/><stop offset="0.40278" stop-color="#0020ff"/><stop offset="0.40741" stop-color="#0020ff"/><stop offset="0.41204" stop-color="#0021ff"/><stop offset="0.41667" stop-color="#0021ff"/><stop offset="0.42130" stop-color="#0022ff"/><stop offset="0.43056" stop-color="#0022ff"/><stop offset="0.43519" stop-color="#0023ff"/><stop offset="0.43981" stop-color="#0023ff"/><stop offset="0.44444" stop-color="#0024ff"/><stop offset="0.50000" stop-color="#0024ff"/><stop offset="0.50463" stop-color="#0025ff"/><stop offset="0.50926" stop-color="#0026ff"/><stop offset="0.51389" stop-color="#0027ff"/><stop offset="0.51852" stop-color="#0027ff"/><stop offset="0.52315" stop-color="#0028ff"/><stop offset="0.52778" stop-color="#0029ff"/><stop offset="0.53241" stop-color="#002aff"/><stop offset="0.53704" stop-color="#002bff"/><stop offset="0.54167" stop-color="#002bff"/><stop offset="0.54630" stop-color="#002cff"/><stop offset="0.55093" stop-color="#002dff"/><stop offset="0.55556" stop-color="#002eff"/><stop offset="0.56019" stop-color="#0031ff"/><stop offset="0.56481" stop-color="#0034ff"/><stop offset="0.56944" stop-color="#0036ff"/><stop offset="0.57407" stop-color="#0039ff"/><stop offset="0.57870" stop-color="#003cff"/><stop offset="0.58333" stop-color="#003fff"/><stop offset="0.58796" stop-color="#0042ff"/><stop offset="0.64815" stop-color="#0042ff"/><stop offset="0.65278" stop-color="#003eff"/><stop offset="0.65741" stop-color="#0039ff"/><stop offset="0.66204" stop-color="#0033ff"/><stop offset="0.66667" stop-color="#002eff"/><stop offset="0.67130" stop-color="#002aff"/><stop offset="0.67593" stop-color="#0025ff"/><stop offset="0.68056" stop-color="#0021ff"/><stop offset="0.68519" stop-color="#001dff"/><stop offset="0.68981" stop-color="#0018ff"/><stop offset="0.69444" stop-color="#0013ff"/><stop offset="0.69907" stop-color="#000dff"/><stop offset="0.70370" stop-color="#0008ff"/><stop offset="0.70833" stop-color="#0002ff"/><stop offset="0.71296" stop-color="#0000ff"/><stop offset="0.75926" stop-color="#0000ff"/><stop offset="0.76389" stop-color="#0000fe"/><stop offset="0.76852" stop-color="#0000fd"/><stop offset="0.77315" stop-color="#0000fc"/><stop offset="0.77778" stop-color="#0000fc"/><stop offset="0.78241" stop-color="#0000fa"/><stop offset="0.78704" stop-color="#0000f8"/><stop offset="0.79167" stop-color="#0000f6"/><stop offset="0.79630" stop-color="#0000f4"/><stop offset="0.80093" stop-color="#0000f2"/><stop offset="0.80556" stop-color="#0000f1"/><stop offset="0.81019" stop-color="#0000ef"/><stop offset="0.81481" stop-color="#0000ed"/><stop offset="0.81944" stop-color="#0000eb"/><stop offset="0.82407" stop-color="#0000e9"/><stop offset="0.82870" stop-color="#0000e8"/><stop offset="0.83333" stop-color="#0000e6"/><stop offset="0.83796" stop-color="#0000e4"/><stop offset="0.84259" stop-color="#0000e2"/><stop offset="0.84722" stop-color="#0000e0"/><stop offset="0.85185" stop-color="#0000de"/><stop offset="0.85648" stop-color="#0000dd"/><stop offset="0.86111" stop-color="#0000db"/><stop offset="0.86574" stop-color="#0000d9"/><stop offset="0.87037" stop-color="#0000d7"/><stop offset="0.87500" stop-color="#0000d5"/><stop offset="0.87963" stop-color="#0000d4"/><stop offset="0.88426" stop-color="#0000d2"/><stop offset="0.88889" stop-color="#0000d1"/><stop offset="0.89352" stop-color="#0000d0"/><stop offset="0.91204" stop-color="#0000d0"/><stop offset="0.91667" stop-color="#0000cf"/><stop offset="0.93981" stop-color="#0000cf"/><stop offset="0.94444" stop-color="#0000ce"/><stop offset="0.96296" stop-color="#0000ce"/><stop offset="0.96759" stop-color="#0000cd"/><stop offset="0.98611" stop-color="#0000cd"/><stop offset="0.99074" stop-color="#0000cc"/><stop offset="1.00000" stop-color="#0000cc"/></linearGradient>
<linearGradient id="g550" x1="0" y1="0" x2="1" y2="0"><stop offset="0.00000" stop-color="#0000f9"/><stop offset="0.05556" stop-color="#0000f9"/><stop offset="0.06019" stop-color="#0000f6"/><stop offset="0.06481" stop-color="#0000f3"/><stop offset="0.06944" stop-color="#0000f1"/><stop offset="0.07407" stop-color="#0000ee"/><stop offset="0.07870" stop-color="#0000ec"/><stop offset="0.08333" stop-color="#0000ef"/><stop offset="0.08796" stop-color="#0000f2"/><stop offset="0.09259" stop-color="#0000f5"/><stop offset="0.09722" stop-color="#0000f7"/><stop offset="0.10185" stop-color="#0000fc"/><stop offset="0.10648" stop-color="#0000ff"/><stop offset="0.24074" stop-color="#0000ff"/><stop offset="0.24537" stop-color="#0000fe"/><stop offset="0.25000" stop-color="#0000fc"/><stop offset="0.25463" stop-color="#0000f9"/><stop offset="0.25926" stop-color="#0000f6"/><stop offset="0.26389" stop-color="#0000f4"/><stop offset="0.26852" stop-color="#0000f1"/><stop offset="0.27315" stop-color="#0000ee"/><stop offset="0.27778" stop-color="#0000eb"/><stop offset="0.28241" stop-color="#0000ee"/><stop offset="0.28704" stop-color="#0000f1"/><stop offset="0.29167" stop-color="#0000f4"/><stop offset="0.29630" stop-color="#0000f6"/><stop offset="0.30093" stop-color="#0000f9"/><stop offset="0.30556" stop-color="#0000fc"/><stop offset="0.31019" stop-color="#0000fe"/><stop offset="0.31481" stop-color="#0000ff"/><stop offset="0.50000" stop-color="#0000ff"/><stop offset="0.50463" stop-color="#0001ff"/><stop offset="0.51389" stop-color="#0001ff"/><stop offset="0.51852" stop-color="#0002ff"/><stop offset="0.52315" stop-color="#0002ff"/><stop offset="0.52778" stop-color="#0003ff"/><stop offset="0.53704" stop-color="#0003ff"/><stop offset="0.54167" stop-color="#0004ff"/><stop offset="0.54630" stop-color="#0004ff"/><stop offset="0.55093" stop-color="#0005ff"/><stop offset="0.55556" stop-color="#0005ff"/><stop offset="0.56019" stop-color="#0007ff"/><stop offset="0.56481" stop-color="#0009ff"/><stop offset="0.56944" stop-color="#000bff"/><stop offset="0.57407" stop-color="#000eff"/><stop offset="0.57870" stop-color="#0010ff"/><stop offset="0.58333" stop-color="#0012ff"/><stop offset="0.58796" stop-color="#0014ff"/><stop offset="0.59259" stop-color="#0016ff"/><stop offset="0.59722" stop-color="#0018ff"/><stop offset="0.60185" stop-color="#0019ff"/><stop offset="0.63889" stop-color="#0019ff"/><stop offset="0.64352" stop-color="#0016ff"/><stop offset="0.64815" stop-color="#0013ff"/><stop offset="0.65278" stop-color="#000fff"/><stop offset="0.65741" stop-color="#000cff"/><stop offset="0.66204" stop-color="#0009ff"/><stop offset="0.66667" stop-color="#0005ff"/><stop offset="0.67130" stop-color="#0003ff"/><stop offset="0.67593" stop-color="#0001ff"/><stop offset="0.68056" stop-color="#0000ff"/><stop offset="0.71759" stop-color="#0000ff"/><stop offset="0.72222" stop-color="#0000fe"/><stop offset="0.72685" stop-color="#0000fd"/><stop offset="0.73148" stop-color="#0000fc"/><stop offset="0.73611" stop-color="#0000fa"/><stop offset="0.74074" stop-color="#0000f9"/><stop offset="0.74537" stop-color="#0000f8"/><stop offset="0.75000" stop-color="#0000f6"/><stop offset="0.75463" stop-color="#0000f5"/><stop offset="0.75926" stop-color="#0000f4"/><stop offset="0.76389" stop-color="#0000f2"/><stop offset="0.76852" stop-color="#0000ef"/><stop offset="0.77315" stop-color="#0000ed"/><stop offset="0.77778" stop-color="#0000eb"/><stop offset="0.78241" stop-color="#0000e9"/><stop offset="0.78704" stop-color="#0000e6"/><stop offset="0.79167" stop-color="#0000e5"/><stop offset="0.79630" stop-color="#0000e3"/><stop offset="0.80093" stop-color="#0000e2"/><stop offset="0.80556" stop-color="#0000e1"/><stop offset="0.81019" stop-color="#0000df"/><stop offset="0.81481" stop-color="#0000de"/><stop offset="0.81944" stop-color="#0000dd"/><stop offset="0.82407" stop-color="#0000db"/><stop offset="0.82870" stop-color="#0000da"/><stop offset="0.83333" stop-color="#0000d9"/><stop offset="0.83796" stop-color="#0000d7"/><stop offset="0.84259" stop-color="#0000d6"/><stop offset="0.84722" stop-color="#0000d5"/><stop offset="0.85185" stop-color="#0000d4"/><stop offset="0.85648" stop-color="#0000d3"/><stop offset="0.86111" stop-color="#0000d3"/><stop offset="0.86574" stop-color="#0000d2"/><stop offset="0.87037" stop-color="#0000d1"/><stop offset="0.87500" stop-color="#0000d0"/><stop offset="0.87963" stop-color="#0000cf"/><stop offset="0.88426" stop-color="#0000ce"/><stop offset="0.88889" stop-color="#0000cd"/><stop offset="0.89352" stop-color="#0000cd"/><stop offset="0.89815" stop-color="#0000cc"/><stop offset="0.90278" stop-color="#0000cc"/><stop offset="0.90741" stop-color="#0000cb"/><stop offset="0.91204" stop-color="#0000cb"/><stop offset="0.91667" stop-color="#0000ca"/><stop offset="0.92130" stop-color="#0000ca"/><stop offset="0.92593" stop-color="#0000c9"/><stop offset="0.93056" stop-color="#0000c9"/><stop offset="0.93519" stop-color="#0000c8"/><stop offset="0.93981" stop-color="#0000c8"/><stop offset="0.94444" stop-color="#0000c7"/><stop offset="0.94907" stop-color="#0000c7"/><stop offset="0.95370" stop-color="#0000c6"/><stop offset="0.95833" stop-color="#0000c6"/><stop offset="0.96296" stop-color="#0000c5"/><stop offset="0.96759" stop-color="#0000c5"/><stop offset="0.97222" stop-color="#0000c4"/><stop offset="0.98148" stop-color="#0000c4"/><stop offset="0.98611" stop-color="#0000c3"/><stop offset="0.99074" stop-color="#0000c3"/><stop offset="0.99537" stop-color="#0000c2"/><stop offset="1.00000" stop-color="#0000c2"/></linearGradient>
<linearGradient id="g580" x1="0" y1="0" x2="1" y2="0"><stop offset="0.00000" stop-color="#0000f0"/><stop offset="0.04167" stop-color="#0000f0"/><stop offset="0.04630" stop-color="#0000ef"/><stop offset="0.05093" stop-color="#0000ed"/><stop offset="0.05556" stop-color="#0000ea"/><stop offset="0.06019" stop-color="#0000e8"/><stop offset="0.06481" stop-color="#0000e6"/><stop offset="0.06944" stop-color="#0000e3"/><stop offset="0.07407" stop-color="#0000e3"/><stop offset="0.07870" stop-color="#0000e5"/><stop offset="0.08333" stop-color="#0000e8"/><stop offset="0.08796" stop-color="#0000ea"/><stop offset="0.09259" stop-color="#0000ec"/><stop offset="0.09722" stop-color="#0000ef"/><stop offset="0.10185" stop-color="#0000f1"/><stop offset="0.10648" stop-color="#0000f5"/><stop offset="0.11111" stop-color="#0000f9"/><stop offset="0.23148" stop-color="#0000f9"/><stop offset="0.23611" stop-color="#0000f7"/><stop offset="0.24074" stop-color="#0000f4"/><stop offset="0.24537" stop-color="#0000f0"/><stop offset="0.25000" stop-color="#0000ed"/><stop offset="0.25463" stop-color="#0000e9"/><stop offset="0.25926" stop-color="#0000e6"/><stop offset="0.26389" stop-color="#0000e2"/><stop offset="0.26852" stop-color="#0000df"/><stop offset="0.27315" stop-color="#0000dd"/><stop offset="0.27778" stop-color="#0000e1"/><stop offset="0.28241" stop-color="#0000e5"/><stop offset="0.28704" stop-color="#0000e9"/><stop offset="0.29167" stop-color="#0000ec"/><stop offset="0.29630" stop-color="#0000f0"/><stop offset="0.30093" stop-color="#0000f4"/><stop offset="0.30556" stop-color="#0000f5"/><stop offset="0.31019" stop-color="#0000f6"/><stop offset="0.31481" stop-color="#0000f7"/><stop offset="0.31944" stop-color="#0000f8"/><stop offset="0.32407" stop-color="#0000f9"/><stop offset="0.32870" stop-color="#0000fa"/><stop offset="0.33333" stop-color="#0000fc"/><stop offset="0.50000" stop-color="#0000fc"/><stop offset="0.50463" stop-color="#0000fd"/><stop offset="0.50926" stop-color="#0000fe"/><stop offset="0.51389" stop-color="#0000ff"/><stop offset="0.67130" stop-color="#0000ff"/><stop offset="0.67593" stop-color="#0000fe"/><stop offset="0.68056" stop-color="#0000fd"/><stop offset="0.68519" stop-color="#0000fb"/><stop offset="0.68981" stop-color="#0000fa"/><stop offset="0.69444" stop-color="#0000f8"/><stop offset="0.69907" stop-color="#0000f7"/><stop offset="0.70370" stop-color="#0000f5"/><stop offset="0.70833" stop-color="#0000f4"/><stop offset="0.71296" stop-color="#0000f2"/><stop offset="0.71759" stop-color="#0000f1"/><stop offset="0.72222" stop-color="#0000ef"/><stop offset="0.72685" stop-color="#0000ee"/><stop offset="0.73148" stop-color="#0000ed"/><stop offset="0.73611" stop-color="#0000ec"/><stop offset="0.74074" stop-color="#0000eb"/><stop offset="0.74537" stop-color="#0000ea"/><stop offset="0.75000" stop-color="#0000e9"/><stop offset="0.75463" stop-color="#0000e8"/><stop offset="0.75926" stop-color="#0000e6"/><stop offset="0.76389" stop-color="#0000e5"/><stop offset="0.76852" stop-color="#0000e4"/><stop offset="0.77315" stop-color="#0000e3"/><stop offset="0.77778" stop-color="#0000e2"/><stop offset="0.78241" stop-color="#0000e0"/><stop offset="0.78704" stop-color="#0000df"/><stop offset="0.79167" stop-color="#0000dd"/><stop offset="0.79630" stop-color="#0000dc"/><stop offset="0.80093" stop-color="#0000da"/><stop offset="0.80556" stop-color="#0000d9"/><stop offset="0.81019" stop-color="#0000d7"/><stop offset="0.81481" stop-color="#0000d6"/><stop offset="0.81944" stop-color="#0000d4"/><stop offset="0.82407" stop-color="#0000d3"/><stop offset="0.82870" stop-color="#0000d1"/><stop offset="0.83333" stop-color="#0000d0"/><stop offset="0.83796" stop-color="#0000ce"/><stop offset="0.84259" stop-color="#0000cd"/><stop offset="0.84722" stop-color="#0000cc"/><stop offset="0.85185" stop-color="#0000cb"/><stop offset="0.85648" stop-color="#0000c9"/><stop offset="0.86111" stop-color="#0000c8"/><stop offset="0.86574" stop-color="#0000c7"/><stop offset="0.87037" stop-color="#0000c6"/><stop offset="0.87500" stop-color="#0000c5"/><stop offset="0.87963" stop-color="#0000c4"/><stop offset="0.88426" stop-color="#0000c3"/><stop offset="0.88889" stop-color="#0000c2"/><stop offset="0.89352" stop-color="#0000c1"/><stop offset="0.90278" stop-color="#0000c1"/><stop offset="0.90741" stop-color="#0000c0"/><stop offset="0.91667" stop-color="#0000c0"/><stop offset="0.92130" stop-color="#0000bf"/><stop offset="0.93056" stop-color="#0000bf"/><stop offset="0.93519" stop-color="#0000be"/><stop offset="0.94444" stop-color="#0000be"/><stop offset="0.94907" stop-color="#0000bd"/><stop offset="0.95370" stop-color="#0000bd"/><stop offset="0.95833" stop-color="#0000bc"/><stop offset="0.96759" stop-color="#0000bc"/><stop offset="0.97222" stop-color="#0000bb"/><stop offset="0.98148" stop-color="#0000bb"/><stop offset="0.98611" stop-color="#0000ba"/><stop offset="0.99537" stop-color="#0000ba"/><stop offset="1.00000" stop-color="#0000b9"/></linearGradient>
<linearGradient id="g610" x1="0" y1="0" x2="1" y2="0"><stop offset="0.00000" stop-color="#0000bf"/><stop offset="0.00926" stop-color="#0000bf"/><stop offset="0.01389" stop-color="#0000be"/><stop offset="0.02778" stop-color="#0000be"/><stop offset="0.03241" stop-color="#0000bd"/><stop offset="0.04167" stop-color="#0000bd"/><stop offset="0.04630" stop-color="#0000bc"/><stop offset="0.06019" stop-color="#0000bc"/><stop offset="0.06481" stop-color="#0000bd"/><stop offset="0.06944" stop-color="#0000be"/><stop offset="0.07407" stop-color="#0000be"/><stop offset="0.07870" stop-color="#0000bf"/><stop offset="0.08333" stop-color="#0000bf"/><stop offset="0.08796" stop-color="#0000c0"/><stop offset="0.09259" stop-color="#0000c1"/><stop offset="0.09722" stop-color="#0000c1"/><stop offset="0.10185" stop-color="#0000c2"/><stop offset="0.23148" stop-color="#0000c2"/><stop offset="0.23611" stop-color="#0000c1"/><stop offset="0.24074" stop-color="#0000bf"/><stop offset="0.24537" stop-color="#0000bd"/><stop offset="0.25000" stop-color="#0000bc"/><stop offset="0.25463" stop-color="#0000ba"/><stop offset="0.25926" stop-color="#0000b8"/><stop offset="0.26389" stop-color="#0000b7"/><stop offset="0.26852" stop-color="#0000b5"/><stop offset="0.27315" stop-color="#0000b4"/><stop offset="0.27778" stop-color="#0000b6"/><stop offset="0.28241" stop-color="#0000b8"/><stop offset="0.28704" stop-color="#0000ba"/><stop offset="0.29167" stop-color="#0000bc"/><stop offset="0.29630" stop-color="#0000be"/><stop offset="0.30093" stop-color="#0000bf"/><stop offset="0.30556" stop-color="#0000c0"/><stop offset="0.31481" stop-color="#0000c0"/><stop offset="0.31944" stop-color="#0000c1"/><stop offset="0.32870" stop-color="#0000c1"/><stop offset="0.33333" stop-color="#0000c2"/><stop offset="0.34722" stop-color="#0000c2"/><stop offset="0.35185" stop-color="#0000c3"/><stop offset="0.37037" stop-color="#0000c3"/><stop offset="0.37500" stop-color="#0000c4"/><stop offset="0.38889" stop-color="#0000c4"/><stop offset="0.39352" stop-color="#0000c5"/><stop offset="0.40741" stop-color="#0000c5"/><stop offset="0.41204" stop-color="#0000c6"/><stop offset="0.42593" stop-color="#0000c6"/><stop offset="0.43056" stop-color="#0000c7"/><stop offset="0.44444" stop-color="#0000c7"/><stop offset="0.44907" stop-color="#0000c8"/><stop offset="0.45833" stop-color="#0000c8"/><stop offset="0.46296" stop-color="#0000c9"/><stop offset="0.47222" stop-color="#0000c9"/><stop offset="0.47685" stop-color="#0000ca"/><stop offset="0.49074" stop-color="#0000ca"/><stop offset="0.49537" stop-color="#0000cb"/><stop offset="0.50000" stop-color="#0000cb"/><stop offset="0.50463" stop-color="#0000cc"/><stop offset="0.50926" stop-color="#0000cd"/><stop offset="0.51389" stop-color="#0000ce"/><stop offset="0.51852" stop-color="#0000cf"/><stop offset="0.52315" stop-color="#0000d0"/><stop offset="0.52778" stop-color="#0000d1"/><stop offset="0.53241" stop-color="#0000d2"/><stop offset="0.53704" stop-color="#0000d3"/><stop offset="0.54167" stop-color="#0000d4"/><stop offset="0.54630" stop-color="#0000d5"/><stop offset="0.55093" stop-color="#0000d6"/><stop offset="0.65278" stop-color="#0000d6"/><stop offset="0.65741" stop-color="#0000d5"/><stop offset="0.66204" stop-color="#0000d1"/><stop offset="0.66667" stop-color="#0000cd"/><stop offset="0.67130" stop-color="#0000cc"/><stop offset="0.67593" stop-color="#0000cb"/><stop offset="0.68056" stop-color="#0000ca"/><stop offset="0.68519" stop-color="#0000c9"/><stop offset="0.68981" stop-color="#0000c8"/><stop offset="0.69444" stop-color="#0000c7"/><stop offset="0.69907" stop-color="#0000c6"/><stop offset="0.70370" stop-color="#0000c5"/><stop offset="0.70833" stop-color="#0000c4"/><stop offset="0.71296" stop-color="#0000c3"/><stop offset="0.71759" stop-color="#0000c2"/><stop offset="0.72222" stop-color="#0000c1"/><stop offset="0.72685" stop-color="#0000c0"/><stop offset="0.73148" stop-color="#0000bf"/><stop offset="0.73611" stop-color="#0000be"/><stop offset="0.74074" stop-color="#0000bd"/><stop offset="0.74537" stop-color="#0000bb"/><stop offset="0.75000" stop-color="#0000ba"/><stop offset="0.75463" stop-color="#0000b9"/><stop offset="0.75926" stop-color="#0000b8"/><stop offset="0.76389" stop-color="#0000b7"/><stop offset="0.76852" stop-color="#0000b6"/><stop offset="0.77315" stop-color="#0000b5"/><stop offset="0.77778" stop-color="#0000b4"/><stop offset="0.78241" stop-color="#0000b3"/><stop offset="0.78704" stop-color="#0000b2"/><stop offset="0.79167" stop-color="#0000b2"/><stop offset="0.79630" stop-color="#0000b1"/><stop offset="0.80093" stop-color="#0000b0"/><stop offset="0.80556" stop-color="#0000b0"/><stop offset="0.81019" stop-color="#0000af"/><stop offset="0.81481" stop-color="#0000ae"/><stop offset="0.81944" stop-color="#0000ae"/><stop offset="0.82407" stop-color="#0000ad"/><stop offset="0.82870" stop-color="#0000ac"/><stop offset="0.83333" stop-color="#0000ac"/><stop offset="0.83796" stop-color="#0000ab"/><stop offset="0.84259" stop-color="#0000aa"/><stop offset="0.84722" stop-color="#0000aa"/><stop offset="0.85185" stop-color="#0000a9"/><stop offset="0.85648" stop-color="#0000a9"/><stop offset="0.86111" stop-color="#0000a8"/><stop offset="0.86574" stop-color="#0000a7"/><stop offset="0.87037" stop-color="#0000a7"/><stop offset="0.87500" stop-color="#0000a6"/><stop offset="0.87963" stop-color="#0000a6"/><stop offset="0.88426" stop-color="#0000a5"/><stop offset="0.88889" stop-color="#0000a5"/><stop offset="0.89352" stop-color="#0000a4"/><stop offset="0.91204" stop-color="#0000a4"/><stop offset="0.91667" stop-color="#0000a3"/><stop offset="0.93519" stop-color="#0000a3"/><stop offset="0.93981" stop-color="#0000a2"/><stop offset="0.96296" stop-color="#0000a2"/><stop offset="0.96759" stop-color="#0000a1"/><stop offset="0.98611" stop-color="#0000a1"/><stop offset="0.99074" stop-color="#0000a0"/><stop offset="1.00000" stop-color="#0000a0"/></linearGradient>
<linearGradient id="g660" x1="0" y1="0" x2="1" y2="0"><stop offset="0.00000" stop-color="#000082"/><stop offset="0.12037" stop-color="#000082"/><stop offset="0.12500" stop-color="#000083"/><stop offset="0.12963" stop-color="#000084"/><stop offset="0.13426" stop-color="#000085"/><stop offset="0.21296" stop-color="#000085"/><stop offset="0.21759" stop-color="#000084"/><stop offset="0.22222" stop-color="#000084"/><stop offset="0.22685" stop-color="#000083"/><stop offset="0.23148" stop-color="#000082"/><stop offset="0.35648" stop-color="#000082"/><stop offset="0.36111" stop-color="#000084"/><stop offset="0.36574" stop-color="#000085"/><stop offset="0.37963" stop-color="#000085"/><stop offset="0.38426" stop-color="#000086"/><stop offset="0.44907" stop-color="#000086"/><stop offset="0.45370" stop-color="#000087"/><stop offset="0.64352" stop-color="#000087"/><stop offset="0.64815" stop-color="#000088"/><stop offset="0.66667" stop-color="#000088"/><stop offset="0.67130" stop-color="#000087"/><stop offset="0.68056" stop-color="#000087"/><stop offset="0.68519" stop-color="#000086"/><stop offset="0.69907" stop-color="#000086"/><stop offset="0.70370" stop-color="#000085"/><stop offset="0.71296" stop-color="#000085"/><stop offset="0.71759" stop-color="#000084"/><stop offset="0.74074" stop-color="#000084"/><stop offset="0.74537" stop-color="#000083"/><stop offset="0.77315" stop-color="#000083"/><stop offset="0.77778" stop-color="#000082"/><stop offset="0.82407" stop-color="#000082"/><stop offset="0.82870" stop-color="#000081"/><stop offset="0.91204" stop-color="#000081"/><stop offset="0.91667" stop-color="#000080"/><stop offset="1.00000" stop-color="#000080"/></linearGradient>
<linearGradient id="cb" x1="0" y1="1" x2="0" y2="0"><stop offset="0.0000" stop-color="#000080"/><stop offset="0.0156" stop-color="#000092"/><stop offset="0.0312" stop-color="#0000a4"/><stop offset="0.0469" stop-color="#0000b6"/><stop offset="0.0625" stop-color="#0000c8"/><stop offset="0.0781" stop-color="#0000da"/><stop offset="0.0938" stop-color="#0000ec"/><stop offset="0.1094" stop-color="#0000fe"/><stop offset="0.1250" stop-color="#0000ff"/><stop offset="0.1406" stop-color="#0010ff"/><stop offset="0.1562" stop-color="#0020ff"/><stop offset="0.1719" stop-color="#0030ff"/><stop offset="0.1875" stop-color="#0040ff"/><stop offset="0.2031" stop-color="#0050ff"/><stop offset="0.2188" stop-color="#0060ff"/><stop offset="0.2344" stop-color="#0070ff"/><stop offset="0.2500" stop-color="#0080ff"/><stop offset="0.2656" stop-color="#008fff"/><stop offset="0.2812" stop-color="#009fff"/><stop offset="0.2969" stop-color="#00afff"/><stop offset="0.3125" stop-color="#00bfff"/><stop offset="0.3281" stop-color="#00cfff"/><stop offset="0.3438" stop-color="#00dffc"/><stop offset="0.3594" stop-color="#08efef"/><stop offset="0.3750" stop-color="#15ffe2"/><stop offset="0.3906" stop-color="#21ffd5"/><stop offset="0.4062" stop-color="#2effc9"/><stop offset="0.4219" stop-color="#3bffbc"/><stop offset="0.4375" stop-color="#48ffaf"/><stop offset="0.4531" stop-color="#55ffa2"/><stop offset="0.4688" stop-color="#62ff95"/><stop offset="0.4844" stop-color="#6fff88"/><stop offset="0.5000" stop-color="#7bff7b"/><stop offset="0.5156" stop-color="#88ff6f"/><stop offset="0.5312" stop-color="#95ff62"/><stop offset="0.5469" stop-color="#a2ff55"/><stop offset="0.5625" stop-color="#afff48"/><stop offset="0.5781" stop-color="#bcff3b"/><stop offset="0.5938" stop-color="#c9ff2e"/><stop offset="0.6094" stop-color="#d5ff21"/><stop offset="0.6250" stop-color="#e2ff15"/><stop offset="0.6406" stop-color="#effe08"/><stop offset="0.6562" stop-color="#fcf000"/><stop offset="0.6719" stop-color="#ffe100"/><stop offset="0.6875" stop-color="#ffd200"/><stop offset="0.7031" stop-color="#ffc300"/><stop offset="0.7188" stop-color="#ffb500"/><stop offset="0.7344" stop-color="#ffa600"/><stop offset="0.7500" stop-color="#ff9700"/><stop offset="0.7656" stop-color="#ff8800"/><stop offset="0.7812" stop-color="#ff7a00"/><stop offset="0.7969" stop-color="#ff6b00"/><stop offset="0.8125" stop-color="#ff5c00"/><stop offset="0.8281" stop-color="#ff4d00"/><stop offset="0.8438" stop-color="#ff3f00"/><stop offset="0.8594" stop-color="#ff3000"/><stop offset="0.8750" stop-color="#ff2100"/><stop offset="0.8906" stop-color="#fe1200"/><stop offset="0.9062" stop-color="#ec0400"/><stop offset="0.9219" stop-color="#da0000"/><stop offset="0.9375" stop-color="#c80000"/><stop offset="0.9531" stop-color="#b60000"/><stop offset="0.9688" stop-color="#a40000"/><stop offset="0.9844" stop-color="#920000"/><stop offset="1.0000" stop-color="#800000"/></linearGradient>
</defs>
<rect x="0" y="0" width="2560" height="1527" fill="#fff"/>
<rect x="204.7" y="148.6" width="1983.6000000000001" height="1231.3000000000002" fill="#000080"/>
<rect x="204.7" y="541.40" width="1983.60" height="67.00" fill="url(#g660)"/>
<rect x="204.7" y="606.90" width="1983.60" height="67.00" fill="url(#g610)"/>
<rect x="204.7" y="672.40" width="1983.60" height="40.80" fill="url(#g580)"/>
<rect x="204.7" y="711.70" width="1983.60" height="40.80" fill="url(#g550)"/>
<rect x="204.7" y="751.00" width="1983.60" height="40.80" fill="url(#g520)"/>
<rect x="204.7" y="790.30" width="1983.60" height="40.80" fill="url(#g490)"/>
<rect x="204.7" y="829.60" width="1983.60" height="40.80" fill="url(#g460)"/>
<rect x="204.7" y="868.90" width="1983.60" height="40.80" fill="url(#g430)"/>
<rect x="204.7" y="908.20" width="1983.60" height="40.80" fill="url(#g400)"/>
<rect x="204.7" y="947.50" width="1983.60" height="40.80" fill="url(#g370)"/>
<rect x="204.7" y="986.80" width="1983.60" height="40.80" fill="url(#g340)"/>
<rect x="204.7" y="1026.10" width="1983.60" height="40.80" fill="url(#g310)"/>
<rect x="204.7" y="1065.40" width="1983.60" height="40.80" fill="url(#g280)"/>
<rect x="204.7" y="1104.70" width="1983.60" height="40.80" fill="url(#g250)"/>
<rect x="204.7" y="1144.00" width="1983.60" height="40.80" fill="url(#g220)"/>
<rect x="204.7" y="1183.30" width="1983.60" height="40.80" fill="url(#g190)"/>
<rect x="204.7" y="1222.60" width="1983.60" height="40.80" fill="url(#g160)"/>
<rect x="204.7" y="1261.90" width="1983.60" height="40.80" fill="url(#g130)"/>
<rect x="204.7" y="1301.20" width="1983.60" height="78.70" fill="#000080"/>
<line x1="425.10" y1="1379.9" x2="425.10" y2="148.6" stroke="#fff" stroke-opacity="0.7" stroke-width="2.95" stroke-dasharray="2.95 4.87"/>
<line x1="645.50" y1="1379.9" x2="645.50" y2="148.6" stroke="#fff" stroke-opacity="0.7" stroke-width="2.95" stroke-dasharray="2.95 4.87"/>
<line x1="865.90" y1="1379.9" x2="865.90" y2="148.6" stroke="#fff" stroke-opacity="0.7" stroke-width="2.95" stroke-dasharray="2.95 4.87"/>
<line x1="1086.30" y1="1379.9" x2="1086.30" y2="148.6" stroke="#fff" stroke-opacity="0.7" stroke-width="2.95" stroke-dasharray="2.95 4.87"/>
<line x1="1306.70" y1="1379.9" x2="1306.70" y2="148.6" stroke="#fff" stroke-opacity="0.7" stroke-width="2.95" stroke-dasharray="2.95 4.87"/>
<line x1="1527.10" y1="1379.9" x2="1527.10" y2="148.6" stroke="#fff" stroke-opacity="0.7" stroke-width="2.95" stroke-dasharray="2.95 4.87"/>
<line x1="1747.50" y1="1379.9" x2="1747.50" y2="148.6" stroke="#fff" stroke-opacity="0.7" stroke-width="2.95" stroke-dasharray="2.95 4.87"/>
<line x1="1967.90" y1="1379.9" x2="1967.90" y2="148.6" stroke="#fff" stroke-opacity="0.7" stroke-width="2.95" stroke-dasharray="2.95 4.87"/>
<line x1="204.7" y1="1210.00" x2="2188.3" y2="1210.00" stroke="#fff" stroke-opacity="0.7" stroke-width="2.95" stroke-dasharray="2.95 4.87"/>
<line x1="204.7" y1="948.00" x2="2188.3" y2="948.00" stroke="#fff" stroke-opacity="0.7" stroke-width="2.95" stroke-dasharray="2.95 4.87"/>
<line x1="204.7" y1="686.00" x2="2188.3" y2="686.00" stroke="#fff" stroke-opacity="0.7" stroke-width="2.95" stroke-dasharray="2.95 4.87"/>
<line x1="204.7" y1="424.00" x2="2188.3" y2="424.00" stroke="#fff" stroke-opacity="0.7" stroke-width="2.95" stroke-dasharray="2.95 4.87"/>
<line x1="204.7" y1="162.00" x2="2188.3" y2="162.00" stroke="#fff" stroke-opacity="0.7" stroke-width="2.95" stroke-dasharray="2.95 4.87"/>
<line x1="204.70" y1="1379.9" x2="204.70" y2="1393.1000000000001" stroke="#000" stroke-width="2.95"/>
<line x1="425.10" y1="1379.9" x2="425.10" y2="1393.1000000000001" stroke="#000" stroke-width="2.95"/>
<line x1="645.50" y1="1379.9" x2="645.50" y2="1393.1000000000001" stroke="#000" stroke-width="2.95"/>
<line x1="865.90" y1="1379.9" x2="865.90" y2="1393.1000000000001" stroke="#000" stroke-width="2.95"/>
<line x1="1086.30" y1="1379.9" x2="1086.30" y2="1393.1000000000001" stroke="#000" stroke-width="2.95"/>
<line x1="1306.70" y1="1379.9" x2="1306.70" y2="1393.1000000000001" stroke="#000" stroke-width="2.95"/>
<line x1="1527.10" y1="1379.9" x2="1527.10" y2="1393.1000000000001" stroke="#000" stroke-width="2.95"/>
<line x1="1747.50" y1="1379.9" x2="1747.50" y2="1393.1000000000001" stroke="#000" stroke-width="2.95"/>
<line x1="1967.90" y1="1379.9" x2="1967.90" y2="1393.1000000000001" stroke="#000" stroke-width="2.95"/>
<line x1="2188.30" y1="1379.9" x2="2188.30" y2="1393.1000000000001" stroke="#000" stroke-width="2.95"/>
<line x1="191.5" y1="1210.00" x2="204.7" y2="1210.00" stroke="#000" stroke-width="2.95"/>
<line x1="191.5" y1="948.00" x2="204.7" y2="948.00" stroke="#000" stroke-width="2.95"/>
<line x1="191.5" y1="686.00" x2="204.7" y2="686.00" stroke="#000" stroke-width="2.95"/>
<line x1="191.5" y1="424.00" x2="204.7" y2="424.00" stroke="#000" stroke-width="2.95"/>
<line x1="191.5" y1="162.00" x2="204.7" y2="162.00" stroke="#000" stroke-width="2.95"/>
<rect x="204.7" y="148.6" width="1983.6000000000001" height="1231.3000000000002" fill="none" stroke="#000" stroke-width="2.95"/>
<rect x="2311.7" y="148.6" width="61.80000000000018" height="1231.3000000000002" fill="url(#cb)" stroke="#000" stroke-width="2.95"/>
<line x1="2373.5" y1="1379.90" x2="2386.7" y2="1379.90" stroke="#000" stroke-width="2.95"/>
<line x1="2373.5" y1="1112.30" x2="2386.7" y2="1112.30" stroke="#000" stroke-width="2.95"/>
<line x1="2373.5" y1="844.70" x2="2386.7" y2="844.70" stroke="#000" stroke-width="2.95"/>
<line x1="2373.5" y1="577.10" x2="2386.7" y2="577.10" stroke="#000" stroke-width="2.95"/>
<line x1="2373.5" y1="309.50" x2="2386.7" y2="309.50" stroke="#000" stroke-width="2.95"/>
<g style="opacity:0.999" stroke="#000" stroke-width="0.3">
<text x="1197.0" y="66.4" font-size="54.6" text-anchor="middle" textLength="1153.0" lengthAdjust="spacingAndGlyphs">Height-Time-Intensity Plot @ Noto_Epicenter</text>
<text x="1196.2" y="126.7" font-size="54.6" text-anchor="middle" textLength="810.0" lengthAdjust="spacingAndGlyphs">Lat: 37.29 (37.25), Lon: 137.00</text>
<text x="204.9" y="1435.8" font-size="40" text-anchor="middle" textLength="104.5" lengthAdjust="spacingAndGlyphs">00:00</text>
<text x="425.3" y="1435.8" font-size="40" text-anchor="middle" textLength="104.5" lengthAdjust="spacingAndGlyphs">01:00</text>
<text x="645.7" y="1435.8" font-size="40" text-anchor="middle" textLength="104.5" lengthAdjust="spacingAndGlyphs">02:00</text>
<text x="866.1" y="1435.8" font-size="40" text-anchor="middle" textLength="104.5" lengthAdjust="spacingAndGlyphs">03:00</text>
<text x="1086.5" y="1435.8" font-size="40" text-anchor="middle" textLength="104.5" lengthAdjust="spacingAndGlyphs">04:00</text>
<text x="1306.9" y="1435.8" font-size="40" text-anchor="middle" textLength="104.5" lengthAdjust="spacingAndGlyphs">05:00</text>
<text x="1527.3" y="1435.8" font-size="40" text-anchor="middle" textLength="104.5" lengthAdjust="spacingAndGlyphs">06:00</text>
<text x="1747.7" y="1435.8" font-size="40" text-anchor="middle" textLength="104.5" lengthAdjust="spacingAndGlyphs">07:00</text>
<text x="1968.1" y="1435.8" font-size="40" text-anchor="middle" textLength="104.5" lengthAdjust="spacingAndGlyphs">08:00</text>
<text x="2188.5" y="1435.8" font-size="40" text-anchor="middle" textLength="104.5" lengthAdjust="spacingAndGlyphs">09:00</text>
<text x="177.0" y="1224.3" font-size="40" text-anchor="end" textLength="69.0" lengthAdjust="spacingAndGlyphs">200</text>
<text x="177.0" y="962.3" font-size="40" text-anchor="end" textLength="69.0" lengthAdjust="spacingAndGlyphs">400</text>
<text x="177.0" y="700.3" font-size="40" text-anchor="end" textLength="69.0" lengthAdjust="spacingAndGlyphs">600</text>
<text x="177.0" y="438.3" font-size="40" text-anchor="end" textLength="69.0" lengthAdjust="spacingAndGlyphs">800</text>
<text x="177.0" y="176.8" font-size="40" text-anchor="end" textLength="92.3" lengthAdjust="spacingAndGlyphs">1000</text>
<text x="1194.4" y="1491.9" font-size="44.6" text-anchor="middle" textLength="518.0" lengthAdjust="spacingAndGlyphs">Time [UT] (Jan 1, 2024)</text>
<text x="58.9" y="765.8" font-size="44.8" text-anchor="middle" textLength="263.7" lengthAdjust="spacingAndGlyphs" transform="rotate(-90 58.9 765.8)">Height [km]</text>
<text x="2400.7" y="1394.3" font-size="40" text-anchor="start" textLength="80.6" lengthAdjust="spacingAndGlyphs">0.00</text>
<text x="2400.7" y="1126.7" font-size="40" text-anchor="start" textLength="80.6" lengthAdjust="spacingAndGlyphs">0.02</text>
<text x="2400.7" y="859.1" font-size="40" text-anchor="start" textLength="80.6" lengthAdjust="spacingAndGlyphs">0.04</text>
<text x="2400.7" y="591.5" font-size="40" text-anchor="start" textLength="80.6" lengthAdjust="spacingAndGlyphs">0.06</text>
<text x="2400.7" y="323.9" font-size="40" text-anchor="start" textLength="80.6" lengthAdjust="spacingAndGlyphs">0.08</text>
<text x="2524.5" y="765.4" font-size="39" text-anchor="middle" textLength="513.5" lengthAdjust="spacingAndGlyphs" transform="rotate(-90 2524.5 765.4)">Electron Density [TECU/km]</text>
</g>
</svg></body></html>
